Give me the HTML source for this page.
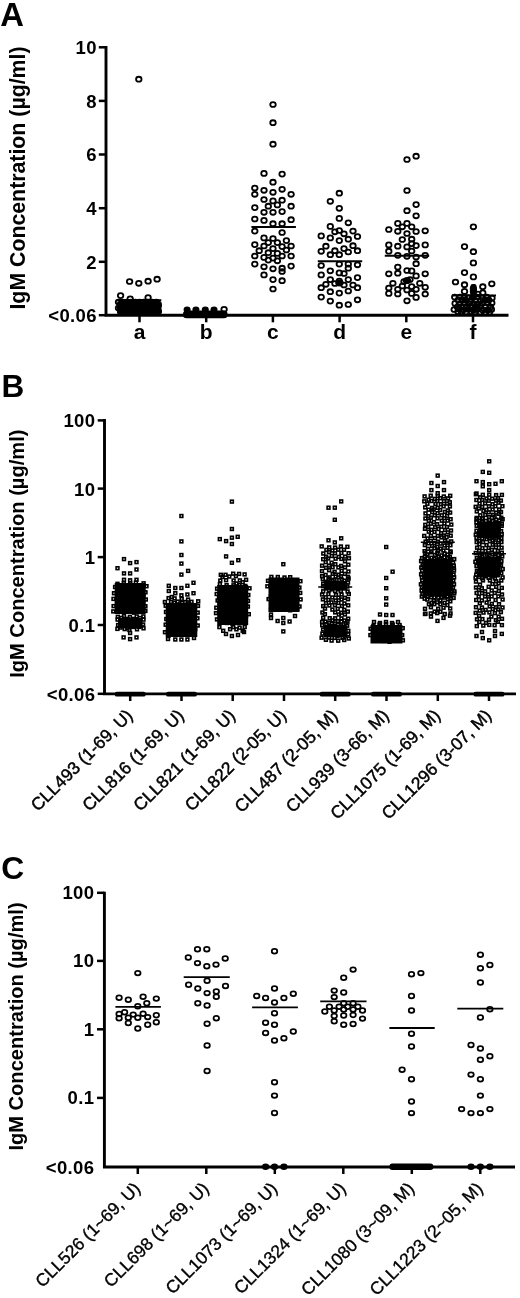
<!DOCTYPE html>
<html><head><meta charset="utf-8"><style>
html,body{margin:0;padding:0;background:#fff;}
svg{display:block;will-change:transform;}
</style></head><body>
<svg width="520" height="1298" viewBox="0 0 520 1298">
<rect width="520" height="1298" fill="#fff"/>
<text x="0.3" y="25.8" font-size="32.8" font-weight="bold" font-family="Liberation Sans, sans-serif">A</text>
<text transform="translate(24.6,178) rotate(-90)" text-anchor="middle" font-size="21.3" font-weight="bold" font-family="Liberation Sans, sans-serif">IgM Concentration (µg/ml)</text>
<path d="M106,46.1 V315.2 H508.5" fill="none" stroke="#000" stroke-width="2.9"/>
<line x1="98.8" y1="47.3" x2="106" y2="47.3" stroke="#000" stroke-width="2.5"/>
<text x="97" y="54.2" text-anchor="end" font-size="18.5" letter-spacing="0.4" font-weight="bold" font-family="Liberation Sans, sans-serif">10</text>
<line x1="98.8" y1="100.9" x2="106" y2="100.9" stroke="#000" stroke-width="2.5"/>
<text x="97" y="107.8" text-anchor="end" font-size="18.5" letter-spacing="0.4" font-weight="bold" font-family="Liberation Sans, sans-serif">8</text>
<line x1="98.8" y1="154.5" x2="106" y2="154.5" stroke="#000" stroke-width="2.5"/>
<text x="97" y="161.4" text-anchor="end" font-size="18.5" letter-spacing="0.4" font-weight="bold" font-family="Liberation Sans, sans-serif">6</text>
<line x1="98.8" y1="208.2" x2="106" y2="208.2" stroke="#000" stroke-width="2.5"/>
<text x="97" y="215.1" text-anchor="end" font-size="18.5" letter-spacing="0.4" font-weight="bold" font-family="Liberation Sans, sans-serif">4</text>
<line x1="98.8" y1="261.8" x2="106" y2="261.8" stroke="#000" stroke-width="2.5"/>
<text x="97" y="268.7" text-anchor="end" font-size="18.5" letter-spacing="0.4" font-weight="bold" font-family="Liberation Sans, sans-serif">2</text>
<line x1="98.8" y1="315.2" x2="106" y2="315.2" stroke="#000" stroke-width="2.5"/>
<text x="97" y="322.2" text-anchor="end" font-size="18.5" letter-spacing="0.4" font-weight="bold" font-family="Liberation Sans, sans-serif">&lt;0.06</text>
<line x1="139.5" y1="315.2" x2="139.5" y2="322.3" stroke="#000" stroke-width="2.5"/>
<text x="139.5" y="339" text-anchor="middle" font-size="21" font-weight="bold" font-family="Liberation Sans, sans-serif">a</text>
<line x1="206.2" y1="315.2" x2="206.2" y2="322.3" stroke="#000" stroke-width="2.5"/>
<text x="206.2" y="339" text-anchor="middle" font-size="21" font-weight="bold" font-family="Liberation Sans, sans-serif">b</text>
<line x1="272.9" y1="315.2" x2="272.9" y2="322.3" stroke="#000" stroke-width="2.5"/>
<text x="272.9" y="339" text-anchor="middle" font-size="21" font-weight="bold" font-family="Liberation Sans, sans-serif">c</text>
<line x1="339.6" y1="315.2" x2="339.6" y2="322.3" stroke="#000" stroke-width="2.5"/>
<text x="339.6" y="339" text-anchor="middle" font-size="21" font-weight="bold" font-family="Liberation Sans, sans-serif">d</text>
<line x1="406.3" y1="315.2" x2="406.3" y2="322.3" stroke="#000" stroke-width="2.5"/>
<text x="406.3" y="339" text-anchor="middle" font-size="21" font-weight="bold" font-family="Liberation Sans, sans-serif">e</text>
<line x1="473" y1="315.2" x2="473" y2="322.3" stroke="#000" stroke-width="2.5"/>
<text x="473" y="339" text-anchor="middle" font-size="21" font-weight="bold" font-family="Liberation Sans, sans-serif">f</text>
<rect x="117" y="301" width="44.5" height="13" rx="2"/>
<rect x="183" y="310.5" width="44.5" height="7.8" rx="3.5"/>
<rect x="470.5" y="284" width="6" height="16" rx="2"/>
<ellipse cx="187.1" cy="309.6" rx="3.5" ry="3.2"/>
<ellipse cx="195.9" cy="309.6" rx="3.5" ry="3.2"/>
<ellipse cx="205.3" cy="309.6" rx="3.5" ry="3.2"/>
<ellipse cx="214" cy="309.6" rx="3.5" ry="3.2"/>
<g fill="none" stroke="#000" stroke-width="1.8">
<ellipse cx="138.8" cy="79.2" rx="2.75" ry="2.45"/>
<ellipse cx="129.6" cy="281.5" rx="2.75" ry="2.45"/>
<ellipse cx="138.8" cy="283.3" rx="2.75" ry="2.45"/>
<ellipse cx="148.1" cy="281.2" rx="2.75" ry="2.45"/>
<ellipse cx="157.1" cy="279.2" rx="2.75" ry="2.45"/>
<ellipse cx="120.6" cy="295.6" rx="2.75" ry="2.45"/>
<ellipse cx="130.2" cy="298.8" rx="2.75" ry="2.45"/>
<ellipse cx="148.1" cy="297.5" rx="2.75" ry="2.45"/>
<ellipse cx="273.0" cy="104.5" rx="2.75" ry="2.45"/>
<ellipse cx="273.0" cy="122.7" rx="2.75" ry="2.45"/>
<ellipse cx="273.0" cy="144.2" rx="2.75" ry="2.45"/>
<ellipse cx="264.0" cy="173.4" rx="2.75" ry="2.45"/>
<ellipse cx="282.1" cy="174.1" rx="2.75" ry="2.45"/>
<ellipse cx="273.0" cy="182.2" rx="2.75" ry="2.45"/>
<ellipse cx="254.8" cy="188.0" rx="2.75" ry="2.45"/>
<ellipse cx="254.8" cy="194.3" rx="2.75" ry="2.45"/>
<ellipse cx="264.0" cy="190.3" rx="2.75" ry="2.45"/>
<ellipse cx="273.0" cy="192.3" rx="2.75" ry="2.45"/>
<ellipse cx="282.1" cy="189.3" rx="2.75" ry="2.45"/>
<ellipse cx="291.1" cy="194.3" rx="2.75" ry="2.45"/>
<ellipse cx="264.0" cy="199.5" rx="2.75" ry="2.45"/>
<ellipse cx="273.0" cy="200.9" rx="2.75" ry="2.45"/>
<ellipse cx="282.1" cy="200.2" rx="2.75" ry="2.45"/>
<ellipse cx="277.4" cy="204.9" rx="2.75" ry="2.45"/>
<ellipse cx="268.3" cy="206.2" rx="2.75" ry="2.45"/>
<ellipse cx="254.8" cy="207.6" rx="2.75" ry="2.45"/>
<ellipse cx="291.1" cy="206.2" rx="2.75" ry="2.45"/>
<ellipse cx="264.0" cy="212.3" rx="2.75" ry="2.45"/>
<ellipse cx="273.0" cy="212.3" rx="2.75" ry="2.45"/>
<ellipse cx="282.1" cy="211.6" rx="2.75" ry="2.45"/>
<ellipse cx="254.8" cy="219.0" rx="2.75" ry="2.45"/>
<ellipse cx="264.0" cy="220.4" rx="2.75" ry="2.45"/>
<ellipse cx="291.1" cy="219.7" rx="2.75" ry="2.45"/>
<ellipse cx="273.0" cy="223.7" rx="2.75" ry="2.45"/>
<ellipse cx="282.1" cy="223.7" rx="2.75" ry="2.45"/>
<ellipse cx="254.8" cy="231.1" rx="2.75" ry="2.45"/>
<ellipse cx="282.1" cy="232.5" rx="2.75" ry="2.45"/>
<ellipse cx="264.0" cy="237.9" rx="2.75" ry="2.45"/>
<ellipse cx="273.0" cy="238.5" rx="2.75" ry="2.45"/>
<ellipse cx="286.4" cy="240.6" rx="2.75" ry="2.45"/>
<ellipse cx="254.8" cy="244.6" rx="2.75" ry="2.45"/>
<ellipse cx="264.0" cy="246.0" rx="2.75" ry="2.45"/>
<ellipse cx="268.3" cy="242.6" rx="2.75" ry="2.45"/>
<ellipse cx="277.4" cy="242.6" rx="2.75" ry="2.45"/>
<ellipse cx="282.1" cy="246.6" rx="2.75" ry="2.45"/>
<ellipse cx="291.1" cy="246.0" rx="2.75" ry="2.45"/>
<ellipse cx="273.0" cy="248.6" rx="2.75" ry="2.45"/>
<ellipse cx="259.2" cy="250.7" rx="2.75" ry="2.45"/>
<ellipse cx="286.4" cy="250.0" rx="2.75" ry="2.45"/>
<ellipse cx="268.3" cy="252.7" rx="2.75" ry="2.45"/>
<ellipse cx="277.4" cy="253.4" rx="2.75" ry="2.45"/>
<ellipse cx="254.8" cy="256.0" rx="2.75" ry="2.45"/>
<ellipse cx="264.0" cy="257.4" rx="2.75" ry="2.45"/>
<ellipse cx="282.1" cy="256.0" rx="2.75" ry="2.45"/>
<ellipse cx="291.1" cy="256.0" rx="2.75" ry="2.45"/>
<ellipse cx="273.0" cy="258.1" rx="2.75" ry="2.45"/>
<ellipse cx="268.3" cy="260.1" rx="2.75" ry="2.45"/>
<ellipse cx="277.4" cy="260.8" rx="2.75" ry="2.45"/>
<ellipse cx="254.8" cy="264.1" rx="2.75" ry="2.45"/>
<ellipse cx="291.1" cy="266.1" rx="2.75" ry="2.45"/>
<ellipse cx="264.0" cy="266.8" rx="2.75" ry="2.45"/>
<ellipse cx="273.0" cy="268.8" rx="2.75" ry="2.45"/>
<ellipse cx="282.1" cy="268.2" rx="2.75" ry="2.45"/>
<ellipse cx="282.1" cy="271.5" rx="2.75" ry="2.45"/>
<ellipse cx="264.0" cy="274.9" rx="2.75" ry="2.45"/>
<ellipse cx="273.0" cy="279.6" rx="2.75" ry="2.45"/>
<ellipse cx="282.1" cy="280.7" rx="2.75" ry="2.45"/>
<ellipse cx="273.0" cy="289.0" rx="2.75" ry="2.45"/>
<ellipse cx="339.3" cy="193.2" rx="2.75" ry="2.45"/>
<ellipse cx="330.3" cy="201.3" rx="2.75" ry="2.45"/>
<ellipse cx="339.3" cy="208.3" rx="2.75" ry="2.45"/>
<ellipse cx="339.3" cy="218.4" rx="2.75" ry="2.45"/>
<ellipse cx="348.3" cy="222.8" rx="2.75" ry="2.45"/>
<ellipse cx="330.3" cy="226.4" rx="2.75" ry="2.45"/>
<ellipse cx="339.3" cy="230.5" rx="2.75" ry="2.45"/>
<ellipse cx="334.9" cy="231.8" rx="2.75" ry="2.45"/>
<ellipse cx="353.0" cy="231.1" rx="2.75" ry="2.45"/>
<ellipse cx="344.0" cy="233.8" rx="2.75" ry="2.45"/>
<ellipse cx="321.2" cy="235.9" rx="2.75" ry="2.45"/>
<ellipse cx="330.3" cy="237.9" rx="2.75" ry="2.45"/>
<ellipse cx="357.5" cy="236.5" rx="2.75" ry="2.45"/>
<ellipse cx="339.3" cy="240.6" rx="2.75" ry="2.45"/>
<ellipse cx="348.3" cy="239.2" rx="2.75" ry="2.45"/>
<ellipse cx="325.9" cy="246.2" rx="2.75" ry="2.45"/>
<ellipse cx="353.0" cy="245.7" rx="2.75" ry="2.45"/>
<ellipse cx="344.0" cy="248.6" rx="2.75" ry="2.45"/>
<ellipse cx="321.2" cy="251.3" rx="2.75" ry="2.45"/>
<ellipse cx="334.9" cy="250.7" rx="2.75" ry="2.45"/>
<ellipse cx="357.5" cy="250.7" rx="2.75" ry="2.45"/>
<ellipse cx="348.3" cy="252.0" rx="2.75" ry="2.45"/>
<ellipse cx="330.3" cy="254.7" rx="2.75" ry="2.45"/>
<ellipse cx="339.3" cy="254.7" rx="2.75" ry="2.45"/>
<ellipse cx="321.2" cy="265.5" rx="2.75" ry="2.45"/>
<ellipse cx="339.3" cy="264.1" rx="2.75" ry="2.45"/>
<ellipse cx="348.3" cy="264.1" rx="2.75" ry="2.45"/>
<ellipse cx="357.5" cy="264.8" rx="2.75" ry="2.45"/>
<ellipse cx="348.3" cy="268.2" rx="2.75" ry="2.45"/>
<ellipse cx="330.3" cy="270.8" rx="2.75" ry="2.45"/>
<ellipse cx="339.3" cy="272.9" rx="2.75" ry="2.45"/>
<ellipse cx="344.0" cy="273.5" rx="2.75" ry="2.45"/>
<ellipse cx="321.2" cy="274.9" rx="2.75" ry="2.45"/>
<ellipse cx="357.5" cy="277.6" rx="2.75" ry="2.45"/>
<ellipse cx="330.3" cy="279.6" rx="2.75" ry="2.45"/>
<ellipse cx="348.3" cy="279.6" rx="2.75" ry="2.45"/>
<ellipse cx="339.3" cy="283.0" rx="2.75" ry="2.45"/>
<ellipse cx="334.9" cy="283.5" rx="2.75" ry="2.45"/>
<ellipse cx="325.9" cy="284.3" rx="2.75" ry="2.45"/>
<ellipse cx="344.0" cy="285.0" rx="2.75" ry="2.45"/>
<ellipse cx="353.0" cy="285.0" rx="2.75" ry="2.45"/>
<ellipse cx="321.2" cy="287.7" rx="2.75" ry="2.45"/>
<ellipse cx="357.5" cy="287.7" rx="2.75" ry="2.45"/>
<ellipse cx="330.3" cy="291.7" rx="2.75" ry="2.45"/>
<ellipse cx="339.3" cy="293.1" rx="2.75" ry="2.45"/>
<ellipse cx="348.3" cy="291.0" rx="2.75" ry="2.45"/>
<ellipse cx="321.2" cy="297.1" rx="2.75" ry="2.45"/>
<ellipse cx="357.5" cy="299.8" rx="2.75" ry="2.45"/>
<ellipse cx="330.3" cy="301.1" rx="2.75" ry="2.45"/>
<ellipse cx="339.3" cy="305.2" rx="2.75" ry="2.45"/>
<ellipse cx="348.3" cy="304.5" rx="2.75" ry="2.45"/>
<ellipse cx="339.3" cy="281.0" rx="2.75" ry="2.45"/>
<ellipse cx="407.0" cy="159.5" rx="2.75" ry="2.45"/>
<ellipse cx="416.1" cy="156.2" rx="2.75" ry="2.45"/>
<ellipse cx="407.0" cy="190.5" rx="2.75" ry="2.45"/>
<ellipse cx="416.1" cy="204.6" rx="2.75" ry="2.45"/>
<ellipse cx="407.0" cy="210.7" rx="2.75" ry="2.45"/>
<ellipse cx="416.1" cy="215.8" rx="2.75" ry="2.45"/>
<ellipse cx="397.8" cy="223.4" rx="2.75" ry="2.45"/>
<ellipse cx="407.0" cy="223.4" rx="2.75" ry="2.45"/>
<ellipse cx="402.3" cy="226.8" rx="2.75" ry="2.45"/>
<ellipse cx="411.7" cy="226.8" rx="2.75" ry="2.45"/>
<ellipse cx="388.8" cy="229.5" rx="2.75" ry="2.45"/>
<ellipse cx="397.8" cy="231.3" rx="2.75" ry="2.45"/>
<ellipse cx="416.1" cy="231.5" rx="2.75" ry="2.45"/>
<ellipse cx="425.2" cy="230.8" rx="2.75" ry="2.45"/>
<ellipse cx="407.0" cy="233.5" rx="2.75" ry="2.45"/>
<ellipse cx="402.3" cy="239.5" rx="2.75" ry="2.45"/>
<ellipse cx="411.7" cy="239.2" rx="2.75" ry="2.45"/>
<ellipse cx="388.8" cy="244.9" rx="2.75" ry="2.45"/>
<ellipse cx="397.8" cy="246.2" rx="2.75" ry="2.45"/>
<ellipse cx="407.0" cy="246.9" rx="2.75" ry="2.45"/>
<ellipse cx="416.1" cy="245.6" rx="2.75" ry="2.45"/>
<ellipse cx="425.2" cy="244.9" rx="2.75" ry="2.45"/>
<ellipse cx="411.7" cy="243.6" rx="2.75" ry="2.45"/>
<ellipse cx="388.8" cy="251.2" rx="2.75" ry="2.45"/>
<ellipse cx="411.7" cy="251.0" rx="2.75" ry="2.45"/>
<ellipse cx="397.8" cy="255.3" rx="2.75" ry="2.45"/>
<ellipse cx="407.0" cy="256.3" rx="2.75" ry="2.45"/>
<ellipse cx="416.1" cy="257.0" rx="2.75" ry="2.45"/>
<ellipse cx="425.2" cy="255.3" rx="2.75" ry="2.45"/>
<ellipse cx="416.1" cy="263.7" rx="2.75" ry="2.45"/>
<ellipse cx="397.8" cy="267.1" rx="2.75" ry="2.45"/>
<ellipse cx="388.8" cy="273.8" rx="2.75" ry="2.45"/>
<ellipse cx="397.8" cy="273.2" rx="2.75" ry="2.45"/>
<ellipse cx="407.0" cy="270.5" rx="2.75" ry="2.45"/>
<ellipse cx="411.7" cy="270.9" rx="2.75" ry="2.45"/>
<ellipse cx="416.1" cy="275.9" rx="2.75" ry="2.45"/>
<ellipse cx="425.2" cy="273.8" rx="2.75" ry="2.45"/>
<ellipse cx="407.0" cy="280.6" rx="2.75" ry="2.45"/>
<ellipse cx="404.0" cy="281.5" rx="2.75" ry="2.45"/>
<ellipse cx="410.0" cy="279.5" rx="2.75" ry="2.45"/>
<ellipse cx="392.9" cy="283.3" rx="2.75" ry="2.45"/>
<ellipse cx="419.8" cy="283.3" rx="2.75" ry="2.45"/>
<ellipse cx="388.8" cy="288.0" rx="2.75" ry="2.45"/>
<ellipse cx="397.8" cy="289.3" rx="2.75" ry="2.45"/>
<ellipse cx="402.3" cy="286.0" rx="2.75" ry="2.45"/>
<ellipse cx="407.0" cy="290.0" rx="2.75" ry="2.45"/>
<ellipse cx="411.7" cy="286.6" rx="2.75" ry="2.45"/>
<ellipse cx="416.1" cy="289.3" rx="2.75" ry="2.45"/>
<ellipse cx="425.2" cy="287.3" rx="2.75" ry="2.45"/>
<ellipse cx="388.8" cy="293.4" rx="2.75" ry="2.45"/>
<ellipse cx="397.8" cy="294.0" rx="2.75" ry="2.45"/>
<ellipse cx="411.7" cy="293.4" rx="2.75" ry="2.45"/>
<ellipse cx="425.2" cy="294.0" rx="2.75" ry="2.45"/>
<ellipse cx="416.1" cy="297.4" rx="2.75" ry="2.45"/>
<ellipse cx="407.0" cy="300.8" rx="2.75" ry="2.45"/>
<ellipse cx="473.4" cy="226.8" rx="2.75" ry="2.45"/>
<ellipse cx="464.5" cy="246.6" rx="2.75" ry="2.45"/>
<ellipse cx="473.4" cy="251.7" rx="2.75" ry="2.45"/>
<ellipse cx="473.4" cy="262.9" rx="2.75" ry="2.45"/>
<ellipse cx="464.5" cy="272.6" rx="2.75" ry="2.45"/>
<ellipse cx="473.4" cy="276.9" rx="2.75" ry="2.45"/>
<ellipse cx="455.5" cy="282.0" rx="2.75" ry="2.45"/>
<ellipse cx="491.8" cy="283.8" rx="2.75" ry="2.45"/>
<ellipse cx="464.5" cy="284.7" rx="2.75" ry="2.45"/>
<ellipse cx="482.8" cy="286.7" rx="2.75" ry="2.45"/>
<ellipse cx="473.4" cy="288.7" rx="2.75" ry="2.45"/>
<ellipse cx="464.5" cy="291.4" rx="2.75" ry="2.45"/>
<ellipse cx="482.8" cy="292.8" rx="2.75" ry="2.45"/>
<ellipse cx="473.4" cy="291.5" rx="2.75" ry="2.45"/>
<ellipse cx="478.0" cy="294.0" rx="2.75" ry="2.45"/>
<ellipse cx="118.5" cy="302.0" rx="2.75" ry="2.45"/>
<ellipse cx="122.7" cy="302.0" rx="2.75" ry="2.45"/>
<ellipse cx="126.9" cy="302.0" rx="2.75" ry="2.45"/>
<ellipse cx="131.1" cy="302.0" rx="2.75" ry="2.45"/>
<ellipse cx="135.3" cy="302.0" rx="2.75" ry="2.45"/>
<ellipse cx="139.5" cy="302.0" rx="2.75" ry="2.45"/>
<ellipse cx="143.7" cy="302.0" rx="2.75" ry="2.45"/>
<ellipse cx="147.9" cy="302.0" rx="2.75" ry="2.45"/>
<ellipse cx="152.1" cy="302.0" rx="2.75" ry="2.45"/>
<ellipse cx="156.3" cy="302.0" rx="2.75" ry="2.45"/>
<ellipse cx="120.6" cy="305.0" rx="2.75" ry="2.45"/>
<ellipse cx="124.8" cy="305.0" rx="2.75" ry="2.45"/>
<ellipse cx="129.0" cy="305.0" rx="2.75" ry="2.45"/>
<ellipse cx="133.2" cy="305.0" rx="2.75" ry="2.45"/>
<ellipse cx="137.4" cy="305.0" rx="2.75" ry="2.45"/>
<ellipse cx="141.6" cy="305.0" rx="2.75" ry="2.45"/>
<ellipse cx="145.8" cy="305.0" rx="2.75" ry="2.45"/>
<ellipse cx="150.0" cy="305.0" rx="2.75" ry="2.45"/>
<ellipse cx="154.2" cy="305.0" rx="2.75" ry="2.45"/>
<ellipse cx="158.4" cy="305.0" rx="2.75" ry="2.45"/>
<ellipse cx="118.5" cy="308.0" rx="2.75" ry="2.45"/>
<ellipse cx="122.7" cy="308.0" rx="2.75" ry="2.45"/>
<ellipse cx="126.9" cy="308.0" rx="2.75" ry="2.45"/>
<ellipse cx="131.1" cy="308.0" rx="2.75" ry="2.45"/>
<ellipse cx="135.3" cy="308.0" rx="2.75" ry="2.45"/>
<ellipse cx="139.5" cy="308.0" rx="2.75" ry="2.45"/>
<ellipse cx="143.7" cy="308.0" rx="2.75" ry="2.45"/>
<ellipse cx="147.9" cy="308.0" rx="2.75" ry="2.45"/>
<ellipse cx="152.1" cy="308.0" rx="2.75" ry="2.45"/>
<ellipse cx="156.3" cy="308.0" rx="2.75" ry="2.45"/>
<ellipse cx="120.6" cy="311.5" rx="2.75" ry="2.45"/>
<ellipse cx="124.8" cy="311.5" rx="2.75" ry="2.45"/>
<ellipse cx="129.0" cy="311.5" rx="2.75" ry="2.45"/>
<ellipse cx="133.2" cy="311.5" rx="2.75" ry="2.45"/>
<ellipse cx="137.4" cy="311.5" rx="2.75" ry="2.45"/>
<ellipse cx="141.6" cy="311.5" rx="2.75" ry="2.45"/>
<ellipse cx="145.8" cy="311.5" rx="2.75" ry="2.45"/>
<ellipse cx="150.0" cy="311.5" rx="2.75" ry="2.45"/>
<ellipse cx="154.2" cy="311.5" rx="2.75" ry="2.45"/>
<ellipse cx="158.4" cy="311.5" rx="2.75" ry="2.45"/>
<ellipse cx="224.1" cy="309.3" rx="2.75" ry="2.45"/>
<ellipse cx="454.7" cy="297.1" rx="2.75" ry="2.45"/>
<ellipse cx="459.8" cy="297.0" rx="2.75" ry="2.45"/>
<ellipse cx="464.3" cy="297.3" rx="2.75" ry="2.45"/>
<ellipse cx="468.1" cy="297.5" rx="2.75" ry="2.45"/>
<ellipse cx="472.7" cy="297.4" rx="2.75" ry="2.45"/>
<ellipse cx="477.3" cy="297.0" rx="2.75" ry="2.45"/>
<ellipse cx="482.5" cy="297.9" rx="2.75" ry="2.45"/>
<ellipse cx="486.6" cy="297.2" rx="2.75" ry="2.45"/>
<ellipse cx="492.0" cy="298.0" rx="2.75" ry="2.45"/>
<ellipse cx="458.1" cy="300.0" rx="2.75" ry="2.45"/>
<ellipse cx="462.5" cy="300.2" rx="2.75" ry="2.45"/>
<ellipse cx="465.9" cy="300.0" rx="2.75" ry="2.45"/>
<ellipse cx="470.8" cy="300.9" rx="2.75" ry="2.45"/>
<ellipse cx="475.2" cy="300.6" rx="2.75" ry="2.45"/>
<ellipse cx="480.5" cy="300.3" rx="2.75" ry="2.45"/>
<ellipse cx="485.0" cy="300.0" rx="2.75" ry="2.45"/>
<ellipse cx="488.8" cy="300.1" rx="2.75" ry="2.45"/>
<ellipse cx="455.1" cy="303.4" rx="2.75" ry="2.45"/>
<ellipse cx="459.3" cy="303.9" rx="2.75" ry="2.45"/>
<ellipse cx="464.5" cy="303.2" rx="2.75" ry="2.45"/>
<ellipse cx="468.9" cy="303.5" rx="2.75" ry="2.45"/>
<ellipse cx="474.0" cy="303.8" rx="2.75" ry="2.45"/>
<ellipse cx="477.7" cy="304.1" rx="2.75" ry="2.45"/>
<ellipse cx="482.0" cy="303.4" rx="2.75" ry="2.45"/>
<ellipse cx="487.6" cy="303.1" rx="2.75" ry="2.45"/>
<ellipse cx="491.8" cy="302.9" rx="2.75" ry="2.45"/>
<ellipse cx="457.4" cy="307.0" rx="2.75" ry="2.45"/>
<ellipse cx="461.6" cy="306.7" rx="2.75" ry="2.45"/>
<ellipse cx="466.7" cy="306.6" rx="2.75" ry="2.45"/>
<ellipse cx="471.0" cy="306.9" rx="2.75" ry="2.45"/>
<ellipse cx="476.4" cy="306.5" rx="2.75" ry="2.45"/>
<ellipse cx="480.6" cy="306.0" rx="2.75" ry="2.45"/>
<ellipse cx="485.2" cy="306.7" rx="2.75" ry="2.45"/>
<ellipse cx="490.3" cy="306.9" rx="2.75" ry="2.45"/>
<ellipse cx="454.2" cy="309.5" rx="2.75" ry="2.45"/>
<ellipse cx="459.1" cy="309.0" rx="2.75" ry="2.45"/>
<ellipse cx="463.5" cy="309.8" rx="2.75" ry="2.45"/>
<ellipse cx="468.2" cy="309.2" rx="2.75" ry="2.45"/>
<ellipse cx="473.2" cy="309.9" rx="2.75" ry="2.45"/>
<ellipse cx="477.3" cy="309.4" rx="2.75" ry="2.45"/>
<ellipse cx="482.7" cy="310.0" rx="2.75" ry="2.45"/>
<ellipse cx="487.7" cy="309.9" rx="2.75" ry="2.45"/>
<ellipse cx="491.4" cy="309.4" rx="2.75" ry="2.45"/>
<ellipse cx="458.0" cy="311.6" rx="2.75" ry="2.45"/>
<ellipse cx="461.4" cy="311.7" rx="2.75" ry="2.45"/>
<ellipse cx="466.1" cy="312.0" rx="2.75" ry="2.45"/>
<ellipse cx="471.2" cy="311.7" rx="2.75" ry="2.45"/>
<ellipse cx="474.9" cy="311.9" rx="2.75" ry="2.45"/>
<ellipse cx="480.1" cy="312.1" rx="2.75" ry="2.45"/>
<ellipse cx="485.6" cy="312.2" rx="2.75" ry="2.45"/>
<ellipse cx="489.5" cy="312.1" rx="2.75" ry="2.45"/>
</g>
<ellipse cx="339.5" cy="282.8" rx="4.2" ry="3.4"/>
<ellipse cx="407" cy="280.6" rx="4.2" ry="3.4"/>
<line x1="117.5" y1="300.2" x2="161.3" y2="300.2" stroke="#000" stroke-width="2"/>
<line x1="251.4" y1="227.1" x2="295.9" y2="227.1" stroke="#000" stroke-width="2"/>
<line x1="317.8" y1="261.2" x2="362.2" y2="261.2" stroke="#000" stroke-width="2"/>
<line x1="384.8" y1="255.7" x2="429.2" y2="255.7" stroke="#000" stroke-width="2"/>
<line x1="452" y1="295.5" x2="496" y2="295.5" stroke="#000" stroke-width="2"/>
<text x="1.5" y="396.9" font-size="31.5" font-weight="bold" font-family="Liberation Sans, sans-serif">B</text>
<text transform="translate(23.8,553.7) rotate(-90)" text-anchor="middle" font-size="20.1" font-weight="bold" font-family="Liberation Sans, sans-serif">IgM Concentration (µg/ml)</text>
<path d="M104.5,419.0 V693.9 H516" fill="none" stroke="#000" stroke-width="2.9"/>
<line x1="97.7" y1="420.4" x2="104.5" y2="420.4" stroke="#000" stroke-width="2.5"/>
<text x="95.5" y="427.3" text-anchor="end" font-size="18.5" letter-spacing="0.4" font-weight="bold" font-family="Liberation Sans, sans-serif">100</text>
<line x1="97.7" y1="488.6" x2="104.5" y2="488.6" stroke="#000" stroke-width="2.5"/>
<text x="95.5" y="495.5" text-anchor="end" font-size="18.5" letter-spacing="0.4" font-weight="bold" font-family="Liberation Sans, sans-serif">10</text>
<line x1="97.7" y1="557.1" x2="104.5" y2="557.1" stroke="#000" stroke-width="2.5"/>
<text x="95.5" y="564.0" text-anchor="end" font-size="18.5" letter-spacing="0.4" font-weight="bold" font-family="Liberation Sans, sans-serif">1</text>
<line x1="97.7" y1="625.0" x2="104.5" y2="625.0" stroke="#000" stroke-width="2.5"/>
<text x="95.5" y="631.9" text-anchor="end" font-size="18.5" letter-spacing="0.4" font-weight="bold" font-family="Liberation Sans, sans-serif">0.1</text>
<line x1="97.7" y1="693.8" x2="104.5" y2="693.8" stroke="#000" stroke-width="2.5"/>
<text x="95.5" y="700.7" text-anchor="end" font-size="18.5" letter-spacing="0.4" font-weight="bold" font-family="Liberation Sans, sans-serif">&lt;0.06</text>
<line x1="130.2" y1="694.2" x2="130.2" y2="701" stroke="#000" stroke-width="2.5"/>
<text transform="translate(133.7,716.5) rotate(-45)" text-anchor="end" font-size="17.5" stroke="#000" stroke-width="0.45" font-family="Liberation Sans, sans-serif">CLL493 (1-69, U)</text>
<line x1="181.5" y1="694.2" x2="181.5" y2="701" stroke="#000" stroke-width="2.5"/>
<text transform="translate(185.0,716.5) rotate(-45)" text-anchor="end" font-size="17.5" stroke="#000" stroke-width="0.45" font-family="Liberation Sans, sans-serif">CLL816 (1-69, U)</text>
<line x1="232.7" y1="694.2" x2="232.7" y2="701" stroke="#000" stroke-width="2.5"/>
<text transform="translate(236.2,716.5) rotate(-45)" text-anchor="end" font-size="17.5" stroke="#000" stroke-width="0.45" font-family="Liberation Sans, sans-serif">CLL821 (1-69, U)</text>
<line x1="284.0" y1="694.2" x2="284.0" y2="701" stroke="#000" stroke-width="2.5"/>
<text transform="translate(287.5,716.5) rotate(-45)" text-anchor="end" font-size="17.5" stroke="#000" stroke-width="0.45" font-family="Liberation Sans, sans-serif">CLL822 (2-05, U)</text>
<line x1="335.2" y1="694.2" x2="335.2" y2="701" stroke="#000" stroke-width="2.5"/>
<text transform="translate(338.7,716.5) rotate(-45)" text-anchor="end" font-size="17.5" stroke="#000" stroke-width="0.45" font-family="Liberation Sans, sans-serif">CLL487 (2-05, M)</text>
<line x1="386.5" y1="694.2" x2="386.5" y2="701" stroke="#000" stroke-width="2.5"/>
<text transform="translate(390.0,716.5) rotate(-45)" text-anchor="end" font-size="17.5" stroke="#000" stroke-width="0.45" font-family="Liberation Sans, sans-serif">CLL939 (3-66, M)</text>
<line x1="437.8" y1="694.2" x2="437.8" y2="701" stroke="#000" stroke-width="2.5"/>
<text transform="translate(441.3,716.5) rotate(-45)" text-anchor="end" font-size="17.5" stroke="#000" stroke-width="0.45" font-family="Liberation Sans, sans-serif">CLL1075 (1-69, M)</text>
<line x1="489.0" y1="694.2" x2="489.0" y2="701" stroke="#000" stroke-width="2.5"/>
<text transform="translate(492.5,716.5) rotate(-45)" text-anchor="end" font-size="17.5" stroke="#000" stroke-width="0.45" font-family="Liberation Sans, sans-serif">CLL1296 (3-07, M)</text>
<rect x="114.7" y="691.8" width="31" height="4.8" rx="2.2"/>
<rect x="166.0" y="691.8" width="31" height="4.8" rx="2.2"/>
<rect x="319.7" y="691.8" width="31" height="4.8" rx="2.2"/>
<rect x="371.0" y="691.8" width="31" height="4.8" rx="2.2"/>
<rect x="473.5" y="691.8" width="31" height="4.8" rx="2.2"/>
<rect x="114.7" y="583.0" width="31.0" height="31.0"/>
<rect x="118.2" y="618.0" width="24.0" height="10.0"/>
<rect x="165.7" y="603.0" width="31.6" height="34.0"/>
<rect x="217.2" y="585.0" width="31.0" height="40.0"/>
<rect x="268.5" y="577.5" width="31.0" height="34.5"/>
<rect x="324.2" y="581.0" width="22.0" height="9.0"/>
<rect x="324.2" y="625.0" width="22.0" height="12.0"/>
<rect x="370.5" y="625.0" width="32.0" height="18.5"/>
<rect x="423.8" y="559.0" width="28.0" height="37.0"/>
<rect x="478.0" y="522.0" width="22.0" height="16.0"/>
<rect x="478.0" y="557.0" width="22.0" height="20.0"/>
<g fill="none" stroke="#000" stroke-width="1.6">
<rect x="122.6" y="557.7" width="2.8" height="2.8"/>
<rect x="128.7" y="561.7" width="2.8" height="2.8"/>
<rect x="135.1" y="560.7" width="2.8" height="2.8"/>
<rect x="116.1" y="566.8" width="2.8" height="2.8"/>
<rect x="135.1" y="568.1" width="2.8" height="2.8"/>
<rect x="122.6" y="572.0" width="2.8" height="2.8"/>
<rect x="128.7" y="572.0" width="2.8" height="2.8"/>
<rect x="122.6" y="578.4" width="2.8" height="2.8"/>
<rect x="128.7" y="578.9" width="2.8" height="2.8"/>
<rect x="135.1" y="578.4" width="2.8" height="2.8"/>
<rect x="116.1" y="582.4" width="2.8" height="2.8"/>
<rect x="122.4" y="581.8" width="2.8" height="2.8"/>
<rect x="128.8" y="581.8" width="2.8" height="2.8"/>
<rect x="134.5" y="581.2" width="2.8" height="2.8"/>
<rect x="142.2" y="581.9" width="2.8" height="2.8"/>
<rect x="113.7" y="585.6" width="2.8" height="2.8"/>
<rect x="119.4" y="584.2" width="2.8" height="2.8"/>
<rect x="125.7" y="584.0" width="2.8" height="2.8"/>
<rect x="131.5" y="584.0" width="2.8" height="2.8"/>
<rect x="138.3" y="585.4" width="2.8" height="2.8"/>
<rect x="145.1" y="584.8" width="2.8" height="2.8"/>
<rect x="115.9" y="587.6" width="2.8" height="2.8"/>
<rect x="135.6" y="587.7" width="2.8" height="2.8"/>
<rect x="141.2" y="587.2" width="2.8" height="2.8"/>
<rect x="112.6" y="591.8" width="2.8" height="2.8"/>
<rect x="120.0" y="591.8" width="2.8" height="2.8"/>
<rect x="125.1" y="591.9" width="2.8" height="2.8"/>
<rect x="132.9" y="591.0" width="2.8" height="2.8"/>
<rect x="138.6" y="591.7" width="2.8" height="2.8"/>
<rect x="144.1" y="590.9" width="2.8" height="2.8"/>
<rect x="121.7" y="593.9" width="2.8" height="2.8"/>
<rect x="128.0" y="594.9" width="2.8" height="2.8"/>
<rect x="135.3" y="594.3" width="2.8" height="2.8"/>
<rect x="142.0" y="593.7" width="2.8" height="2.8"/>
<rect x="112.1" y="597.5" width="2.8" height="2.8"/>
<rect x="118.8" y="598.4" width="2.8" height="2.8"/>
<rect x="125.2" y="598.3" width="2.8" height="2.8"/>
<rect x="131.8" y="598.2" width="2.8" height="2.8"/>
<rect x="137.7" y="598.5" width="2.8" height="2.8"/>
<rect x="144.4" y="598.1" width="2.8" height="2.8"/>
<rect x="115.6" y="600.0" width="2.8" height="2.8"/>
<rect x="122.5" y="600.3" width="2.8" height="2.8"/>
<rect x="128.6" y="600.7" width="2.8" height="2.8"/>
<rect x="141.7" y="601.5" width="2.8" height="2.8"/>
<rect x="112.2" y="604.7" width="2.8" height="2.8"/>
<rect x="118.7" y="603.4" width="2.8" height="2.8"/>
<rect x="126.4" y="603.5" width="2.8" height="2.8"/>
<rect x="138.6" y="603.9" width="2.8" height="2.8"/>
<rect x="144.0" y="604.8" width="2.8" height="2.8"/>
<rect x="116.4" y="606.8" width="2.8" height="2.8"/>
<rect x="122.6" y="606.8" width="2.8" height="2.8"/>
<rect x="129.2" y="606.4" width="2.8" height="2.8"/>
<rect x="135.3" y="607.8" width="2.8" height="2.8"/>
<rect x="141.2" y="608.0" width="2.8" height="2.8"/>
<rect x="111.9" y="610.0" width="2.8" height="2.8"/>
<rect x="118.4" y="609.8" width="2.8" height="2.8"/>
<rect x="125.7" y="609.7" width="2.8" height="2.8"/>
<rect x="132.7" y="611.3" width="2.8" height="2.8"/>
<rect x="138.7" y="610.6" width="2.8" height="2.8"/>
<rect x="144.0" y="609.5" width="2.8" height="2.8"/>
<rect x="116.4" y="615.4" width="2.8" height="2.8"/>
<rect x="122.6" y="614.6" width="2.8" height="2.8"/>
<rect x="128.5" y="615.5" width="2.8" height="2.8"/>
<rect x="135.3" y="615.0" width="2.8" height="2.8"/>
<rect x="142.0" y="615.0" width="2.8" height="2.8"/>
<rect x="119.9" y="616.5" width="2.8" height="2.8"/>
<rect x="126.3" y="617.5" width="2.8" height="2.8"/>
<rect x="132.5" y="617.5" width="2.8" height="2.8"/>
<rect x="138.6" y="616.6" width="2.8" height="2.8"/>
<rect x="116.2" y="618.2" width="2.8" height="2.8"/>
<rect x="123.3" y="619.7" width="2.8" height="2.8"/>
<rect x="128.6" y="619.4" width="2.8" height="2.8"/>
<rect x="135.1" y="619.6" width="2.8" height="2.8"/>
<rect x="142.1" y="618.2" width="2.8" height="2.8"/>
<rect x="119.2" y="620.7" width="2.8" height="2.8"/>
<rect x="125.6" y="621.4" width="2.8" height="2.8"/>
<rect x="131.6" y="620.3" width="2.8" height="2.8"/>
<rect x="138.7" y="620.7" width="2.8" height="2.8"/>
<rect x="116.7" y="623.7" width="2.8" height="2.8"/>
<rect x="123.1" y="623.1" width="2.8" height="2.8"/>
<rect x="128.3" y="623.3" width="2.8" height="2.8"/>
<rect x="135.9" y="624.1" width="2.8" height="2.8"/>
<rect x="141.7" y="623.1" width="2.8" height="2.8"/>
<rect x="119.2" y="626.2" width="2.8" height="2.8"/>
<rect x="126.0" y="626.4" width="2.8" height="2.8"/>
<rect x="131.4" y="625.5" width="2.8" height="2.8"/>
<rect x="137.9" y="625.4" width="2.8" height="2.8"/>
<rect x="116.0" y="627.5" width="2.8" height="2.8"/>
<rect x="123.3" y="627.7" width="2.8" height="2.8"/>
<rect x="128.0" y="628.5" width="2.8" height="2.8"/>
<rect x="135.6" y="627.9" width="2.8" height="2.8"/>
<rect x="142.1" y="626.9" width="2.8" height="2.8"/>
<rect x="128.7" y="631.6" width="2.8" height="2.8"/>
<rect x="122.2" y="636.0" width="2.8" height="2.8"/>
<rect x="128.7" y="637.7" width="2.8" height="2.8"/>
<rect x="135.1" y="636.0" width="2.8" height="2.8"/>
<rect x="180.0" y="514.6" width="2.8" height="2.8"/>
<rect x="180.0" y="540.0" width="2.8" height="2.8"/>
<rect x="180.0" y="553.6" width="2.8" height="2.8"/>
<rect x="180.0" y="562.2" width="2.8" height="2.8"/>
<rect x="186.7" y="569.5" width="2.8" height="2.8"/>
<rect x="180.0" y="573.2" width="2.8" height="2.8"/>
<rect x="167.4" y="584.4" width="2.8" height="2.8"/>
<rect x="167.4" y="589.6" width="2.8" height="2.8"/>
<rect x="173.9" y="586.6" width="2.8" height="2.8"/>
<rect x="180.0" y="586.6" width="2.8" height="2.8"/>
<rect x="186.0" y="584.4" width="2.8" height="2.8"/>
<rect x="192.1" y="581.4" width="2.8" height="2.8"/>
<rect x="192.1" y="591.8" width="2.8" height="2.8"/>
<rect x="173.9" y="591.8" width="2.8" height="2.8"/>
<rect x="180.0" y="593.9" width="2.8" height="2.8"/>
<rect x="186.0" y="593.1" width="2.8" height="2.8"/>
<rect x="170.4" y="595.6" width="2.8" height="2.8"/>
<rect x="167.2" y="596.7" width="2.8" height="2.8"/>
<rect x="173.2" y="597.0" width="2.8" height="2.8"/>
<rect x="180.3" y="597.5" width="2.8" height="2.8"/>
<rect x="186.7" y="598.2" width="2.8" height="2.8"/>
<rect x="163.5" y="600.6" width="2.8" height="2.8"/>
<rect x="169.6" y="600.5" width="2.8" height="2.8"/>
<rect x="176.3" y="600.2" width="2.8" height="2.8"/>
<rect x="183.6" y="600.6" width="2.8" height="2.8"/>
<rect x="190.1" y="600.4" width="2.8" height="2.8"/>
<rect x="196.8" y="599.9" width="2.8" height="2.8"/>
<rect x="173.0" y="601.5" width="2.8" height="2.8"/>
<rect x="180.8" y="601.4" width="2.8" height="2.8"/>
<rect x="187.1" y="602.1" width="2.8" height="2.8"/>
<rect x="164.3" y="604.3" width="2.8" height="2.8"/>
<rect x="171.0" y="605.1" width="2.8" height="2.8"/>
<rect x="176.3" y="605.5" width="2.8" height="2.8"/>
<rect x="196.6" y="604.5" width="2.8" height="2.8"/>
<rect x="173.4" y="607.2" width="2.8" height="2.8"/>
<rect x="180.2" y="608.5" width="2.8" height="2.8"/>
<rect x="185.6" y="608.6" width="2.8" height="2.8"/>
<rect x="193.4" y="607.4" width="2.8" height="2.8"/>
<rect x="164.6" y="610.6" width="2.8" height="2.8"/>
<rect x="170.5" y="611.6" width="2.8" height="2.8"/>
<rect x="177.2" y="612.0" width="2.8" height="2.8"/>
<rect x="184.1" y="610.5" width="2.8" height="2.8"/>
<rect x="189.7" y="610.8" width="2.8" height="2.8"/>
<rect x="196.3" y="611.2" width="2.8" height="2.8"/>
<rect x="167.4" y="614.1" width="2.8" height="2.8"/>
<rect x="174.3" y="615.1" width="2.8" height="2.8"/>
<rect x="180.7" y="615.2" width="2.8" height="2.8"/>
<rect x="186.6" y="613.9" width="2.8" height="2.8"/>
<rect x="192.9" y="614.6" width="2.8" height="2.8"/>
<rect x="164.9" y="617.6" width="2.8" height="2.8"/>
<rect x="171.0" y="617.7" width="2.8" height="2.8"/>
<rect x="177.2" y="616.8" width="2.8" height="2.8"/>
<rect x="183.1" y="618.4" width="2.8" height="2.8"/>
<rect x="196.0" y="616.9" width="2.8" height="2.8"/>
<rect x="167.8" y="621.5" width="2.8" height="2.8"/>
<rect x="173.3" y="620.2" width="2.8" height="2.8"/>
<rect x="180.8" y="620.1" width="2.8" height="2.8"/>
<rect x="185.6" y="620.2" width="2.8" height="2.8"/>
<rect x="193.2" y="620.5" width="2.8" height="2.8"/>
<rect x="164.3" y="623.3" width="2.8" height="2.8"/>
<rect x="169.8" y="624.0" width="2.8" height="2.8"/>
<rect x="176.3" y="624.1" width="2.8" height="2.8"/>
<rect x="183.0" y="623.8" width="2.8" height="2.8"/>
<rect x="189.0" y="623.5" width="2.8" height="2.8"/>
<rect x="196.3" y="624.1" width="2.8" height="2.8"/>
<rect x="167.5" y="627.8" width="2.8" height="2.8"/>
<rect x="174.1" y="627.8" width="2.8" height="2.8"/>
<rect x="186.1" y="628.0" width="2.8" height="2.8"/>
<rect x="193.8" y="627.9" width="2.8" height="2.8"/>
<rect x="163.6" y="630.8" width="2.8" height="2.8"/>
<rect x="169.7" y="631.0" width="2.8" height="2.8"/>
<rect x="177.4" y="629.7" width="2.8" height="2.8"/>
<rect x="183.6" y="629.5" width="2.8" height="2.8"/>
<rect x="190.0" y="631.1" width="2.8" height="2.8"/>
<rect x="167.3" y="634.1" width="2.8" height="2.8"/>
<rect x="174.0" y="633.0" width="2.8" height="2.8"/>
<rect x="179.4" y="632.8" width="2.8" height="2.8"/>
<rect x="186.5" y="633.7" width="2.8" height="2.8"/>
<rect x="192.3" y="633.1" width="2.8" height="2.8"/>
<rect x="166.6" y="637.6" width="2.8" height="2.8"/>
<rect x="173.9" y="638.1" width="2.8" height="2.8"/>
<rect x="180.0" y="638.1" width="2.8" height="2.8"/>
<rect x="186.0" y="638.1" width="2.8" height="2.8"/>
<rect x="192.6" y="636.6" width="2.8" height="2.8"/>
<rect x="230.5" y="500.2" width="2.8" height="2.8"/>
<rect x="230.5" y="527.6" width="2.8" height="2.8"/>
<rect x="218.4" y="537.7" width="2.8" height="2.8"/>
<rect x="224.7" y="539.7" width="2.8" height="2.8"/>
<rect x="230.5" y="536.3" width="2.8" height="2.8"/>
<rect x="236.3" y="535.4" width="2.8" height="2.8"/>
<rect x="230.5" y="542.6" width="2.8" height="2.8"/>
<rect x="224.7" y="555.0" width="2.8" height="2.8"/>
<rect x="230.5" y="561.4" width="2.8" height="2.8"/>
<rect x="236.9" y="558.8" width="2.8" height="2.8"/>
<rect x="219.4" y="573.4" width="2.8" height="2.8"/>
<rect x="224.1" y="573.4" width="2.8" height="2.8"/>
<rect x="231.8" y="572.3" width="2.8" height="2.8"/>
<rect x="237.7" y="572.5" width="2.8" height="2.8"/>
<rect x="243.2" y="573.0" width="2.8" height="2.8"/>
<rect x="221.1" y="575.5" width="2.8" height="2.8"/>
<rect x="227.9" y="575.1" width="2.8" height="2.8"/>
<rect x="234.5" y="574.7" width="2.8" height="2.8"/>
<rect x="218.9" y="579.2" width="2.8" height="2.8"/>
<rect x="224.7" y="578.8" width="2.8" height="2.8"/>
<rect x="232.2" y="579.1" width="2.8" height="2.8"/>
<rect x="238.5" y="579.0" width="2.8" height="2.8"/>
<rect x="244.7" y="578.4" width="2.8" height="2.8"/>
<rect x="235.0" y="582.1" width="2.8" height="2.8"/>
<rect x="241.3" y="580.8" width="2.8" height="2.8"/>
<rect x="218.5" y="582.7" width="2.8" height="2.8"/>
<rect x="225.2" y="583.8" width="2.8" height="2.8"/>
<rect x="232.1" y="583.9" width="2.8" height="2.8"/>
<rect x="238.0" y="583.7" width="2.8" height="2.8"/>
<rect x="243.9" y="584.5" width="2.8" height="2.8"/>
<rect x="215.7" y="587.3" width="2.8" height="2.8"/>
<rect x="228.3" y="587.2" width="2.8" height="2.8"/>
<rect x="234.3" y="586.0" width="2.8" height="2.8"/>
<rect x="240.7" y="586.1" width="2.8" height="2.8"/>
<rect x="248.1" y="586.9" width="2.8" height="2.8"/>
<rect x="219.4" y="590.1" width="2.8" height="2.8"/>
<rect x="231.9" y="589.2" width="2.8" height="2.8"/>
<rect x="238.2" y="589.2" width="2.8" height="2.8"/>
<rect x="215.3" y="592.6" width="2.8" height="2.8"/>
<rect x="221.9" y="592.4" width="2.8" height="2.8"/>
<rect x="234.6" y="593.4" width="2.8" height="2.8"/>
<rect x="240.5" y="593.5" width="2.8" height="2.8"/>
<rect x="246.9" y="593.6" width="2.8" height="2.8"/>
<rect x="217.6" y="595.9" width="2.8" height="2.8"/>
<rect x="224.3" y="596.9" width="2.8" height="2.8"/>
<rect x="232.0" y="596.8" width="2.8" height="2.8"/>
<rect x="238.6" y="597.2" width="2.8" height="2.8"/>
<rect x="244.8" y="596.3" width="2.8" height="2.8"/>
<rect x="216.2" y="599.1" width="2.8" height="2.8"/>
<rect x="222.5" y="600.0" width="2.8" height="2.8"/>
<rect x="229.0" y="600.2" width="2.8" height="2.8"/>
<rect x="233.8" y="599.8" width="2.8" height="2.8"/>
<rect x="240.4" y="598.8" width="2.8" height="2.8"/>
<rect x="246.6" y="599.5" width="2.8" height="2.8"/>
<rect x="218.4" y="602.4" width="2.8" height="2.8"/>
<rect x="224.8" y="603.3" width="2.8" height="2.8"/>
<rect x="232.2" y="603.6" width="2.8" height="2.8"/>
<rect x="237.2" y="602.1" width="2.8" height="2.8"/>
<rect x="244.6" y="603.0" width="2.8" height="2.8"/>
<rect x="214.9" y="606.3" width="2.8" height="2.8"/>
<rect x="221.9" y="606.2" width="2.8" height="2.8"/>
<rect x="227.6" y="605.5" width="2.8" height="2.8"/>
<rect x="246.5" y="605.2" width="2.8" height="2.8"/>
<rect x="218.4" y="609.4" width="2.8" height="2.8"/>
<rect x="225.0" y="608.4" width="2.8" height="2.8"/>
<rect x="231.6" y="609.3" width="2.8" height="2.8"/>
<rect x="237.5" y="609.2" width="2.8" height="2.8"/>
<rect x="243.8" y="609.6" width="2.8" height="2.8"/>
<rect x="214.6" y="611.7" width="2.8" height="2.8"/>
<rect x="221.9" y="612.9" width="2.8" height="2.8"/>
<rect x="228.0" y="612.0" width="2.8" height="2.8"/>
<rect x="234.3" y="612.7" width="2.8" height="2.8"/>
<rect x="247.4" y="612.8" width="2.8" height="2.8"/>
<rect x="224.7" y="614.9" width="2.8" height="2.8"/>
<rect x="230.6" y="614.8" width="2.8" height="2.8"/>
<rect x="237.7" y="615.9" width="2.8" height="2.8"/>
<rect x="244.6" y="614.8" width="2.8" height="2.8"/>
<rect x="215.6" y="618.0" width="2.8" height="2.8"/>
<rect x="222.1" y="619.1" width="2.8" height="2.8"/>
<rect x="227.5" y="618.5" width="2.8" height="2.8"/>
<rect x="234.3" y="618.1" width="2.8" height="2.8"/>
<rect x="241.0" y="619.6" width="2.8" height="2.8"/>
<rect x="225.5" y="621.6" width="2.8" height="2.8"/>
<rect x="231.1" y="622.8" width="2.8" height="2.8"/>
<rect x="237.3" y="621.8" width="2.8" height="2.8"/>
<rect x="243.9" y="621.8" width="2.8" height="2.8"/>
<rect x="218.0" y="625.7" width="2.8" height="2.8"/>
<rect x="231.9" y="625.7" width="2.8" height="2.8"/>
<rect x="238.2" y="626.3" width="2.8" height="2.8"/>
<rect x="243.3" y="625.6" width="2.8" height="2.8"/>
<rect x="221.8" y="629.4" width="2.8" height="2.8"/>
<rect x="228.7" y="627.8" width="2.8" height="2.8"/>
<rect x="235.0" y="627.9" width="2.8" height="2.8"/>
<rect x="241.3" y="629.3" width="2.8" height="2.8"/>
<rect x="224.6" y="632.6" width="2.8" height="2.8"/>
<rect x="230.5" y="634.6" width="2.8" height="2.8"/>
<rect x="236.6" y="633.6" width="2.8" height="2.8"/>
<rect x="242.6" y="630.6" width="2.8" height="2.8"/>
<rect x="281.9" y="562.8" width="2.8" height="2.8"/>
<rect x="270.0" y="575.5" width="2.8" height="2.8"/>
<rect x="276.4" y="575.6" width="2.8" height="2.8"/>
<rect x="283.1" y="576.1" width="2.8" height="2.8"/>
<rect x="288.8" y="575.8" width="2.8" height="2.8"/>
<rect x="266.6" y="579.4" width="2.8" height="2.8"/>
<rect x="273.4" y="580.0" width="2.8" height="2.8"/>
<rect x="280.0" y="579.6" width="2.8" height="2.8"/>
<rect x="286.3" y="579.9" width="2.8" height="2.8"/>
<rect x="293.0" y="579.6" width="2.8" height="2.8"/>
<rect x="299.0" y="579.8" width="2.8" height="2.8"/>
<rect x="269.6" y="581.9" width="2.8" height="2.8"/>
<rect x="277.1" y="582.3" width="2.8" height="2.8"/>
<rect x="282.0" y="582.4" width="2.8" height="2.8"/>
<rect x="289.8" y="581.7" width="2.8" height="2.8"/>
<rect x="294.7" y="582.8" width="2.8" height="2.8"/>
<rect x="266.0" y="584.9" width="2.8" height="2.8"/>
<rect x="273.1" y="586.4" width="2.8" height="2.8"/>
<rect x="278.7" y="585.1" width="2.8" height="2.8"/>
<rect x="285.3" y="586.1" width="2.8" height="2.8"/>
<rect x="291.7" y="585.1" width="2.8" height="2.8"/>
<rect x="298.0" y="586.2" width="2.8" height="2.8"/>
<rect x="269.9" y="589.5" width="2.8" height="2.8"/>
<rect x="275.7" y="589.6" width="2.8" height="2.8"/>
<rect x="289.1" y="589.7" width="2.8" height="2.8"/>
<rect x="294.9" y="588.1" width="2.8" height="2.8"/>
<rect x="272.8" y="592.1" width="2.8" height="2.8"/>
<rect x="279.0" y="593.0" width="2.8" height="2.8"/>
<rect x="285.3" y="591.2" width="2.8" height="2.8"/>
<rect x="291.9" y="592.6" width="2.8" height="2.8"/>
<rect x="298.8" y="591.5" width="2.8" height="2.8"/>
<rect x="269.5" y="594.9" width="2.8" height="2.8"/>
<rect x="276.2" y="595.5" width="2.8" height="2.8"/>
<rect x="289.0" y="594.7" width="2.8" height="2.8"/>
<rect x="294.5" y="595.9" width="2.8" height="2.8"/>
<rect x="267.2" y="597.7" width="2.8" height="2.8"/>
<rect x="273.4" y="597.8" width="2.8" height="2.8"/>
<rect x="279.3" y="599.3" width="2.8" height="2.8"/>
<rect x="286.4" y="598.1" width="2.8" height="2.8"/>
<rect x="292.0" y="599.3" width="2.8" height="2.8"/>
<rect x="299.2" y="598.0" width="2.8" height="2.8"/>
<rect x="269.8" y="601.1" width="2.8" height="2.8"/>
<rect x="275.8" y="601.4" width="2.8" height="2.8"/>
<rect x="282.2" y="601.6" width="2.8" height="2.8"/>
<rect x="288.7" y="602.0" width="2.8" height="2.8"/>
<rect x="295.2" y="601.6" width="2.8" height="2.8"/>
<rect x="273.3" y="604.0" width="2.8" height="2.8"/>
<rect x="279.8" y="604.4" width="2.8" height="2.8"/>
<rect x="285.7" y="604.0" width="2.8" height="2.8"/>
<rect x="298.1" y="605.1" width="2.8" height="2.8"/>
<rect x="269.6" y="608.2" width="2.8" height="2.8"/>
<rect x="275.9" y="607.9" width="2.8" height="2.8"/>
<rect x="282.1" y="607.6" width="2.8" height="2.8"/>
<rect x="288.7" y="608.9" width="2.8" height="2.8"/>
<rect x="295.8" y="607.8" width="2.8" height="2.8"/>
<rect x="269.6" y="616.6" width="2.8" height="2.8"/>
<rect x="276.2" y="619.6" width="2.8" height="2.8"/>
<rect x="281.9" y="616.6" width="2.8" height="2.8"/>
<rect x="281.9" y="621.6" width="2.8" height="2.8"/>
<rect x="288.2" y="620.1" width="2.8" height="2.8"/>
<rect x="281.9" y="630.0" width="2.8" height="2.8"/>
<rect x="293.6" y="614.6" width="2.8" height="2.8"/>
<rect x="269.6" y="613.1" width="2.8" height="2.8"/>
<rect x="339.8" y="500.0" width="2.8" height="2.8"/>
<rect x="327.1" y="506.3" width="2.8" height="2.8"/>
<rect x="333.4" y="506.3" width="2.8" height="2.8"/>
<rect x="333.4" y="518.4" width="2.8" height="2.8"/>
<rect x="339.8" y="536.9" width="2.8" height="2.8"/>
<rect x="327.1" y="538.9" width="2.8" height="2.8"/>
<rect x="333.4" y="541.0" width="2.8" height="2.8"/>
<rect x="320.3" y="545.0" width="2.8" height="2.8"/>
<rect x="327.8" y="546.0" width="2.8" height="2.8"/>
<rect x="333.7" y="546.2" width="2.8" height="2.8"/>
<rect x="339.5" y="545.1" width="2.8" height="2.8"/>
<rect x="346.0" y="545.4" width="2.8" height="2.8"/>
<rect x="325.0" y="548.5" width="2.8" height="2.8"/>
<rect x="330.9" y="549.1" width="2.8" height="2.8"/>
<rect x="336.8" y="548.3" width="2.8" height="2.8"/>
<rect x="342.6" y="548.4" width="2.8" height="2.8"/>
<rect x="321.9" y="552.1" width="2.8" height="2.8"/>
<rect x="327.6" y="550.7" width="2.8" height="2.8"/>
<rect x="333.6" y="551.9" width="2.8" height="2.8"/>
<rect x="340.0" y="551.6" width="2.8" height="2.8"/>
<rect x="347.2" y="551.8" width="2.8" height="2.8"/>
<rect x="324.7" y="555.3" width="2.8" height="2.8"/>
<rect x="330.4" y="554.6" width="2.8" height="2.8"/>
<rect x="337.4" y="555.5" width="2.8" height="2.8"/>
<rect x="343.8" y="555.2" width="2.8" height="2.8"/>
<rect x="321.8" y="557.8" width="2.8" height="2.8"/>
<rect x="326.7" y="557.1" width="2.8" height="2.8"/>
<rect x="334.2" y="557.3" width="2.8" height="2.8"/>
<rect x="340.0" y="557.5" width="2.8" height="2.8"/>
<rect x="347.5" y="556.9" width="2.8" height="2.8"/>
<rect x="324.3" y="560.7" width="2.8" height="2.8"/>
<rect x="330.2" y="561.3" width="2.8" height="2.8"/>
<rect x="343.6" y="559.9" width="2.8" height="2.8"/>
<rect x="320.7" y="564.3" width="2.8" height="2.8"/>
<rect x="327.6" y="564.2" width="2.8" height="2.8"/>
<rect x="333.9" y="562.8" width="2.8" height="2.8"/>
<rect x="339.7" y="564.5" width="2.8" height="2.8"/>
<rect x="346.9" y="563.3" width="2.8" height="2.8"/>
<rect x="324.7" y="566.4" width="2.8" height="2.8"/>
<rect x="331.2" y="565.7" width="2.8" height="2.8"/>
<rect x="337.0" y="566.0" width="2.8" height="2.8"/>
<rect x="343.6" y="566.0" width="2.8" height="2.8"/>
<rect x="320.6" y="569.7" width="2.8" height="2.8"/>
<rect x="327.7" y="568.8" width="2.8" height="2.8"/>
<rect x="333.2" y="570.4" width="2.8" height="2.8"/>
<rect x="340.2" y="569.4" width="2.8" height="2.8"/>
<rect x="347.0" y="570.1" width="2.8" height="2.8"/>
<rect x="324.2" y="573.5" width="2.8" height="2.8"/>
<rect x="331.3" y="572.4" width="2.8" height="2.8"/>
<rect x="337.2" y="573.3" width="2.8" height="2.8"/>
<rect x="343.5" y="572.5" width="2.8" height="2.8"/>
<rect x="320.7" y="574.8" width="2.8" height="2.8"/>
<rect x="328.2" y="576.0" width="2.8" height="2.8"/>
<rect x="334.3" y="575.2" width="2.8" height="2.8"/>
<rect x="339.5" y="574.9" width="2.8" height="2.8"/>
<rect x="346.6" y="575.4" width="2.8" height="2.8"/>
<rect x="321.4" y="577.6" width="2.8" height="2.8"/>
<rect x="327.1" y="577.4" width="2.8" height="2.8"/>
<rect x="333.1" y="578.3" width="2.8" height="2.8"/>
<rect x="340.5" y="578.3" width="2.8" height="2.8"/>
<rect x="347.2" y="577.1" width="2.8" height="2.8"/>
<rect x="324.4" y="580.3" width="2.8" height="2.8"/>
<rect x="331.2" y="578.9" width="2.8" height="2.8"/>
<rect x="337.9" y="578.7" width="2.8" height="2.8"/>
<rect x="343.1" y="579.3" width="2.8" height="2.8"/>
<rect x="321.8" y="582.2" width="2.8" height="2.8"/>
<rect x="327.2" y="581.8" width="2.8" height="2.8"/>
<rect x="333.0" y="582.3" width="2.8" height="2.8"/>
<rect x="340.2" y="582.4" width="2.8" height="2.8"/>
<rect x="346.6" y="581.1" width="2.8" height="2.8"/>
<rect x="325.0" y="584.3" width="2.8" height="2.8"/>
<rect x="331.2" y="583.3" width="2.8" height="2.8"/>
<rect x="336.4" y="584.3" width="2.8" height="2.8"/>
<rect x="342.9" y="583.8" width="2.8" height="2.8"/>
<rect x="321.7" y="584.8" width="2.8" height="2.8"/>
<rect x="327.8" y="585.3" width="2.8" height="2.8"/>
<rect x="334.5" y="586.0" width="2.8" height="2.8"/>
<rect x="340.6" y="586.4" width="2.8" height="2.8"/>
<rect x="345.9" y="585.1" width="2.8" height="2.8"/>
<rect x="324.6" y="587.1" width="2.8" height="2.8"/>
<rect x="330.2" y="587.9" width="2.8" height="2.8"/>
<rect x="336.8" y="587.9" width="2.8" height="2.8"/>
<rect x="343.6" y="587.1" width="2.8" height="2.8"/>
<rect x="321.8" y="589.9" width="2.8" height="2.8"/>
<rect x="327.7" y="588.9" width="2.8" height="2.8"/>
<rect x="333.7" y="589.7" width="2.8" height="2.8"/>
<rect x="339.4" y="589.8" width="2.8" height="2.8"/>
<rect x="346.2" y="590.1" width="2.8" height="2.8"/>
<rect x="320.7" y="593.1" width="2.8" height="2.8"/>
<rect x="327.0" y="592.7" width="2.8" height="2.8"/>
<rect x="334.6" y="593.5" width="2.8" height="2.8"/>
<rect x="340.2" y="593.1" width="2.8" height="2.8"/>
<rect x="347.4" y="592.6" width="2.8" height="2.8"/>
<rect x="324.3" y="595.9" width="2.8" height="2.8"/>
<rect x="330.9" y="596.1" width="2.8" height="2.8"/>
<rect x="337.1" y="596.2" width="2.8" height="2.8"/>
<rect x="343.5" y="596.4" width="2.8" height="2.8"/>
<rect x="321.5" y="598.0" width="2.8" height="2.8"/>
<rect x="327.0" y="598.5" width="2.8" height="2.8"/>
<rect x="334.4" y="599.1" width="2.8" height="2.8"/>
<rect x="340.2" y="598.1" width="2.8" height="2.8"/>
<rect x="346.6" y="597.8" width="2.8" height="2.8"/>
<rect x="324.6" y="601.7" width="2.8" height="2.8"/>
<rect x="330.1" y="601.0" width="2.8" height="2.8"/>
<rect x="337.0" y="601.5" width="2.8" height="2.8"/>
<rect x="343.0" y="602.1" width="2.8" height="2.8"/>
<rect x="321.8" y="604.7" width="2.8" height="2.8"/>
<rect x="328.0" y="604.1" width="2.8" height="2.8"/>
<rect x="333.5" y="603.8" width="2.8" height="2.8"/>
<rect x="340.5" y="604.6" width="2.8" height="2.8"/>
<rect x="346.8" y="603.9" width="2.8" height="2.8"/>
<rect x="323.6" y="607.2" width="2.8" height="2.8"/>
<rect x="331.0" y="608.2" width="2.8" height="2.8"/>
<rect x="336.3" y="607.4" width="2.8" height="2.8"/>
<rect x="342.9" y="608.4" width="2.8" height="2.8"/>
<rect x="321.0" y="611.1" width="2.8" height="2.8"/>
<rect x="333.8" y="611.0" width="2.8" height="2.8"/>
<rect x="339.8" y="611.3" width="2.8" height="2.8"/>
<rect x="346.4" y="610.2" width="2.8" height="2.8"/>
<rect x="323.5" y="612.8" width="2.8" height="2.8"/>
<rect x="337.5" y="613.1" width="2.8" height="2.8"/>
<rect x="343.5" y="613.1" width="2.8" height="2.8"/>
<rect x="321.8" y="616.4" width="2.8" height="2.8"/>
<rect x="328.3" y="616.8" width="2.8" height="2.8"/>
<rect x="333.7" y="616.9" width="2.8" height="2.8"/>
<rect x="340.0" y="617.0" width="2.8" height="2.8"/>
<rect x="346.8" y="617.3" width="2.8" height="2.8"/>
<rect x="324.0" y="620.2" width="2.8" height="2.8"/>
<rect x="331.1" y="619.1" width="2.8" height="2.8"/>
<rect x="336.5" y="619.7" width="2.8" height="2.8"/>
<rect x="342.9" y="619.1" width="2.8" height="2.8"/>
<rect x="320.7" y="620.5" width="2.8" height="2.8"/>
<rect x="327.8" y="621.3" width="2.8" height="2.8"/>
<rect x="333.6" y="619.8" width="2.8" height="2.8"/>
<rect x="340.0" y="620.2" width="2.8" height="2.8"/>
<rect x="346.1" y="620.2" width="2.8" height="2.8"/>
<rect x="325.0" y="623.0" width="2.8" height="2.8"/>
<rect x="330.4" y="622.0" width="2.8" height="2.8"/>
<rect x="336.8" y="623.1" width="2.8" height="2.8"/>
<rect x="344.2" y="621.7" width="2.8" height="2.8"/>
<rect x="320.8" y="623.8" width="2.8" height="2.8"/>
<rect x="327.1" y="625.1" width="2.8" height="2.8"/>
<rect x="333.0" y="624.4" width="2.8" height="2.8"/>
<rect x="339.4" y="624.0" width="2.8" height="2.8"/>
<rect x="345.8" y="624.3" width="2.8" height="2.8"/>
<rect x="324.3" y="625.9" width="2.8" height="2.8"/>
<rect x="330.2" y="627.0" width="2.8" height="2.8"/>
<rect x="336.4" y="626.1" width="2.8" height="2.8"/>
<rect x="343.8" y="626.4" width="2.8" height="2.8"/>
<rect x="321.7" y="628.1" width="2.8" height="2.8"/>
<rect x="327.2" y="628.1" width="2.8" height="2.8"/>
<rect x="333.0" y="628.8" width="2.8" height="2.8"/>
<rect x="340.8" y="629.5" width="2.8" height="2.8"/>
<rect x="346.9" y="629.4" width="2.8" height="2.8"/>
<rect x="324.6" y="630.9" width="2.8" height="2.8"/>
<rect x="331.3" y="630.1" width="2.8" height="2.8"/>
<rect x="336.3" y="630.5" width="2.8" height="2.8"/>
<rect x="342.6" y="630.4" width="2.8" height="2.8"/>
<rect x="321.0" y="632.2" width="2.8" height="2.8"/>
<rect x="327.3" y="632.6" width="2.8" height="2.8"/>
<rect x="334.1" y="632.1" width="2.8" height="2.8"/>
<rect x="340.0" y="632.5" width="2.8" height="2.8"/>
<rect x="346.8" y="633.0" width="2.8" height="2.8"/>
<rect x="324.6" y="633.7" width="2.8" height="2.8"/>
<rect x="330.4" y="633.8" width="2.8" height="2.8"/>
<rect x="336.2" y="634.6" width="2.8" height="2.8"/>
<rect x="343.4" y="634.3" width="2.8" height="2.8"/>
<rect x="320.2" y="636.3" width="2.8" height="2.8"/>
<rect x="327.6" y="636.2" width="2.8" height="2.8"/>
<rect x="333.3" y="636.5" width="2.8" height="2.8"/>
<rect x="341.1" y="636.4" width="2.8" height="2.8"/>
<rect x="347.4" y="637.1" width="2.8" height="2.8"/>
<rect x="324.5" y="638.4" width="2.8" height="2.8"/>
<rect x="330.2" y="639.2" width="2.8" height="2.8"/>
<rect x="336.8" y="639.3" width="2.8" height="2.8"/>
<rect x="342.8" y="638.6" width="2.8" height="2.8"/>
<rect x="384.8" y="545.6" width="2.8" height="2.8"/>
<rect x="391.2" y="570.3" width="2.8" height="2.8"/>
<rect x="384.8" y="576.6" width="2.8" height="2.8"/>
<rect x="384.8" y="586.8" width="2.8" height="2.8"/>
<rect x="384.8" y="596.9" width="2.8" height="2.8"/>
<rect x="384.8" y="603.2" width="2.8" height="2.8"/>
<rect x="378.6" y="613.1" width="2.8" height="2.8"/>
<rect x="384.8" y="613.6" width="2.8" height="2.8"/>
<rect x="391.1" y="613.6" width="2.8" height="2.8"/>
<rect x="372.6" y="620.6" width="2.8" height="2.8"/>
<rect x="378.6" y="621.6" width="2.8" height="2.8"/>
<rect x="384.6" y="620.6" width="2.8" height="2.8"/>
<rect x="390.6" y="621.6" width="2.8" height="2.8"/>
<rect x="396.6" y="620.6" width="2.8" height="2.8"/>
<rect x="372.0" y="624.5" width="2.8" height="2.8"/>
<rect x="378.1" y="623.1" width="2.8" height="2.8"/>
<rect x="384.6" y="622.7" width="2.8" height="2.8"/>
<rect x="391.3" y="623.1" width="2.8" height="2.8"/>
<rect x="398.2" y="623.7" width="2.8" height="2.8"/>
<rect x="369.2" y="627.4" width="2.8" height="2.8"/>
<rect x="381.6" y="627.5" width="2.8" height="2.8"/>
<rect x="388.7" y="627.2" width="2.8" height="2.8"/>
<rect x="395.5" y="627.4" width="2.8" height="2.8"/>
<rect x="401.3" y="626.8" width="2.8" height="2.8"/>
<rect x="372.1" y="629.6" width="2.8" height="2.8"/>
<rect x="378.8" y="629.5" width="2.8" height="2.8"/>
<rect x="384.8" y="629.4" width="2.8" height="2.8"/>
<rect x="390.8" y="629.2" width="2.8" height="2.8"/>
<rect x="397.2" y="630.4" width="2.8" height="2.8"/>
<rect x="369.0" y="633.7" width="2.8" height="2.8"/>
<rect x="374.9" y="633.9" width="2.8" height="2.8"/>
<rect x="381.1" y="632.8" width="2.8" height="2.8"/>
<rect x="388.8" y="633.0" width="2.8" height="2.8"/>
<rect x="394.3" y="633.6" width="2.8" height="2.8"/>
<rect x="400.8" y="633.7" width="2.8" height="2.8"/>
<rect x="372.9" y="636.5" width="2.8" height="2.8"/>
<rect x="379.1" y="636.6" width="2.8" height="2.8"/>
<rect x="385.6" y="635.7" width="2.8" height="2.8"/>
<rect x="391.8" y="635.9" width="2.8" height="2.8"/>
<rect x="397.0" y="636.6" width="2.8" height="2.8"/>
<rect x="382.2" y="639.5" width="2.8" height="2.8"/>
<rect x="388.1" y="640.4" width="2.8" height="2.8"/>
<rect x="401.5" y="638.9" width="2.8" height="2.8"/>
<rect x="436.3" y="474.2" width="2.8" height="2.8"/>
<rect x="430.0" y="481.6" width="2.8" height="2.8"/>
<rect x="442.6" y="480.7" width="2.8" height="2.8"/>
<rect x="436.3" y="484.6" width="2.8" height="2.8"/>
<rect x="430.0" y="488.7" width="2.8" height="2.8"/>
<rect x="442.6" y="488.7" width="2.8" height="2.8"/>
<rect x="436.3" y="491.8" width="2.8" height="2.8"/>
<rect x="423.2" y="495.0" width="2.8" height="2.8"/>
<rect x="429.3" y="494.3" width="2.8" height="2.8"/>
<rect x="436.4" y="494.6" width="2.8" height="2.8"/>
<rect x="442.4" y="495.1" width="2.8" height="2.8"/>
<rect x="448.8" y="494.4" width="2.8" height="2.8"/>
<rect x="427.2" y="498.3" width="2.8" height="2.8"/>
<rect x="433.5" y="497.5" width="2.8" height="2.8"/>
<rect x="438.9" y="496.8" width="2.8" height="2.8"/>
<rect x="446.7" y="497.0" width="2.8" height="2.8"/>
<rect x="422.9" y="499.9" width="2.8" height="2.8"/>
<rect x="430.1" y="499.6" width="2.8" height="2.8"/>
<rect x="436.0" y="499.7" width="2.8" height="2.8"/>
<rect x="442.5" y="499.8" width="2.8" height="2.8"/>
<rect x="448.4" y="500.9" width="2.8" height="2.8"/>
<rect x="426.0" y="502.4" width="2.8" height="2.8"/>
<rect x="434.1" y="502.5" width="2.8" height="2.8"/>
<rect x="439.5" y="502.8" width="2.8" height="2.8"/>
<rect x="445.8" y="502.2" width="2.8" height="2.8"/>
<rect x="423.8" y="506.0" width="2.8" height="2.8"/>
<rect x="430.7" y="506.5" width="2.8" height="2.8"/>
<rect x="436.3" y="506.4" width="2.8" height="2.8"/>
<rect x="442.2" y="504.9" width="2.8" height="2.8"/>
<rect x="448.5" y="505.0" width="2.8" height="2.8"/>
<rect x="427.2" y="508.3" width="2.8" height="2.8"/>
<rect x="432.3" y="508.1" width="2.8" height="2.8"/>
<rect x="438.7" y="508.6" width="2.8" height="2.8"/>
<rect x="446.5" y="509.0" width="2.8" height="2.8"/>
<rect x="424.1" y="512.0" width="2.8" height="2.8"/>
<rect x="430.8" y="510.7" width="2.8" height="2.8"/>
<rect x="436.2" y="511.8" width="2.8" height="2.8"/>
<rect x="443.5" y="510.5" width="2.8" height="2.8"/>
<rect x="448.7" y="511.2" width="2.8" height="2.8"/>
<rect x="427.0" y="514.8" width="2.8" height="2.8"/>
<rect x="433.4" y="513.9" width="2.8" height="2.8"/>
<rect x="440.3" y="513.9" width="2.8" height="2.8"/>
<rect x="445.7" y="514.6" width="2.8" height="2.8"/>
<rect x="424.0" y="517.1" width="2.8" height="2.8"/>
<rect x="429.4" y="516.3" width="2.8" height="2.8"/>
<rect x="436.1" y="516.9" width="2.8" height="2.8"/>
<rect x="442.8" y="516.8" width="2.8" height="2.8"/>
<rect x="449.2" y="517.8" width="2.8" height="2.8"/>
<rect x="427.4" y="519.5" width="2.8" height="2.8"/>
<rect x="432.5" y="520.7" width="2.8" height="2.8"/>
<rect x="440.4" y="519.3" width="2.8" height="2.8"/>
<rect x="446.3" y="519.2" width="2.8" height="2.8"/>
<rect x="423.9" y="523.4" width="2.8" height="2.8"/>
<rect x="429.4" y="522.3" width="2.8" height="2.8"/>
<rect x="435.7" y="522.8" width="2.8" height="2.8"/>
<rect x="443.0" y="522.1" width="2.8" height="2.8"/>
<rect x="449.9" y="523.2" width="2.8" height="2.8"/>
<rect x="426.8" y="525.5" width="2.8" height="2.8"/>
<rect x="433.8" y="525.7" width="2.8" height="2.8"/>
<rect x="439.9" y="525.3" width="2.8" height="2.8"/>
<rect x="445.5" y="525.6" width="2.8" height="2.8"/>
<rect x="423.6" y="527.4" width="2.8" height="2.8"/>
<rect x="429.9" y="528.4" width="2.8" height="2.8"/>
<rect x="437.1" y="527.6" width="2.8" height="2.8"/>
<rect x="443.6" y="528.6" width="2.8" height="2.8"/>
<rect x="449.6" y="529.1" width="2.8" height="2.8"/>
<rect x="427.4" y="530.3" width="2.8" height="2.8"/>
<rect x="433.1" y="530.5" width="2.8" height="2.8"/>
<rect x="439.8" y="531.8" width="2.8" height="2.8"/>
<rect x="446.5" y="531.0" width="2.8" height="2.8"/>
<rect x="422.8" y="534.5" width="2.8" height="2.8"/>
<rect x="429.5" y="534.4" width="2.8" height="2.8"/>
<rect x="436.4" y="534.5" width="2.8" height="2.8"/>
<rect x="442.4" y="534.1" width="2.8" height="2.8"/>
<rect x="449.3" y="534.3" width="2.8" height="2.8"/>
<rect x="426.3" y="537.1" width="2.8" height="2.8"/>
<rect x="433.6" y="536.7" width="2.8" height="2.8"/>
<rect x="440.1" y="536.0" width="2.8" height="2.8"/>
<rect x="445.2" y="535.8" width="2.8" height="2.8"/>
<rect x="424.2" y="540.2" width="2.8" height="2.8"/>
<rect x="429.4" y="539.4" width="2.8" height="2.8"/>
<rect x="436.6" y="540.3" width="2.8" height="2.8"/>
<rect x="443.6" y="539.1" width="2.8" height="2.8"/>
<rect x="449.8" y="540.0" width="2.8" height="2.8"/>
<rect x="427.1" y="541.9" width="2.8" height="2.8"/>
<rect x="432.9" y="541.7" width="2.8" height="2.8"/>
<rect x="439.2" y="542.2" width="2.8" height="2.8"/>
<rect x="445.4" y="541.3" width="2.8" height="2.8"/>
<rect x="423.5" y="543.7" width="2.8" height="2.8"/>
<rect x="430.8" y="544.6" width="2.8" height="2.8"/>
<rect x="435.8" y="545.3" width="2.8" height="2.8"/>
<rect x="443.2" y="544.1" width="2.8" height="2.8"/>
<rect x="449.0" y="543.8" width="2.8" height="2.8"/>
<rect x="426.6" y="547.4" width="2.8" height="2.8"/>
<rect x="433.1" y="546.8" width="2.8" height="2.8"/>
<rect x="439.3" y="547.2" width="2.8" height="2.8"/>
<rect x="446.1" y="546.4" width="2.8" height="2.8"/>
<rect x="423.2" y="549.8" width="2.8" height="2.8"/>
<rect x="429.9" y="550.0" width="2.8" height="2.8"/>
<rect x="436.8" y="549.4" width="2.8" height="2.8"/>
<rect x="442.0" y="549.1" width="2.8" height="2.8"/>
<rect x="449.1" y="550.0" width="2.8" height="2.8"/>
<rect x="423.9" y="551.9" width="2.8" height="2.8"/>
<rect x="429.8" y="550.9" width="2.8" height="2.8"/>
<rect x="435.9" y="551.5" width="2.8" height="2.8"/>
<rect x="443.3" y="552.2" width="2.8" height="2.8"/>
<rect x="449.2" y="550.9" width="2.8" height="2.8"/>
<rect x="426.0" y="553.0" width="2.8" height="2.8"/>
<rect x="433.6" y="553.5" width="2.8" height="2.8"/>
<rect x="440.3" y="554.0" width="2.8" height="2.8"/>
<rect x="446.2" y="553.1" width="2.8" height="2.8"/>
<rect x="423.5" y="555.3" width="2.8" height="2.8"/>
<rect x="430.1" y="556.4" width="2.8" height="2.8"/>
<rect x="437.2" y="555.4" width="2.8" height="2.8"/>
<rect x="443.0" y="556.0" width="2.8" height="2.8"/>
<rect x="448.4" y="555.5" width="2.8" height="2.8"/>
<rect x="420.6" y="556.7" width="2.8" height="2.8"/>
<rect x="426.2" y="557.0" width="2.8" height="2.8"/>
<rect x="433.0" y="557.6" width="2.8" height="2.8"/>
<rect x="439.0" y="557.5" width="2.8" height="2.8"/>
<rect x="446.4" y="556.8" width="2.8" height="2.8"/>
<rect x="452.8" y="557.7" width="2.8" height="2.8"/>
<rect x="423.5" y="557.9" width="2.8" height="2.8"/>
<rect x="430.8" y="559.5" width="2.8" height="2.8"/>
<rect x="436.1" y="558.9" width="2.8" height="2.8"/>
<rect x="442.1" y="559.3" width="2.8" height="2.8"/>
<rect x="449.2" y="558.1" width="2.8" height="2.8"/>
<rect x="419.7" y="559.7" width="2.8" height="2.8"/>
<rect x="426.4" y="560.9" width="2.8" height="2.8"/>
<rect x="433.0" y="559.6" width="2.8" height="2.8"/>
<rect x="439.5" y="560.5" width="2.8" height="2.8"/>
<rect x="446.6" y="559.7" width="2.8" height="2.8"/>
<rect x="451.7" y="561.2" width="2.8" height="2.8"/>
<rect x="423.4" y="562.2" width="2.8" height="2.8"/>
<rect x="430.8" y="561.8" width="2.8" height="2.8"/>
<rect x="435.7" y="562.6" width="2.8" height="2.8"/>
<rect x="443.1" y="561.4" width="2.8" height="2.8"/>
<rect x="448.3" y="561.3" width="2.8" height="2.8"/>
<rect x="421.2" y="563.9" width="2.8" height="2.8"/>
<rect x="425.9" y="563.4" width="2.8" height="2.8"/>
<rect x="432.7" y="562.9" width="2.8" height="2.8"/>
<rect x="439.3" y="563.6" width="2.8" height="2.8"/>
<rect x="446.7" y="564.4" width="2.8" height="2.8"/>
<rect x="452.4" y="564.3" width="2.8" height="2.8"/>
<rect x="423.2" y="565.6" width="2.8" height="2.8"/>
<rect x="429.7" y="565.1" width="2.8" height="2.8"/>
<rect x="436.1" y="565.1" width="2.8" height="2.8"/>
<rect x="441.9" y="565.8" width="2.8" height="2.8"/>
<rect x="449.2" y="565.3" width="2.8" height="2.8"/>
<rect x="419.9" y="566.1" width="2.8" height="2.8"/>
<rect x="426.4" y="566.8" width="2.8" height="2.8"/>
<rect x="433.6" y="566.8" width="2.8" height="2.8"/>
<rect x="439.4" y="567.6" width="2.8" height="2.8"/>
<rect x="446.1" y="567.6" width="2.8" height="2.8"/>
<rect x="452.5" y="566.6" width="2.8" height="2.8"/>
<rect x="423.8" y="568.6" width="2.8" height="2.8"/>
<rect x="430.0" y="568.4" width="2.8" height="2.8"/>
<rect x="435.6" y="567.7" width="2.8" height="2.8"/>
<rect x="442.3" y="568.9" width="2.8" height="2.8"/>
<rect x="449.8" y="568.2" width="2.8" height="2.8"/>
<rect x="420.7" y="569.3" width="2.8" height="2.8"/>
<rect x="427.4" y="569.7" width="2.8" height="2.8"/>
<rect x="433.7" y="570.5" width="2.8" height="2.8"/>
<rect x="438.8" y="570.5" width="2.8" height="2.8"/>
<rect x="446.2" y="570.1" width="2.8" height="2.8"/>
<rect x="452.6" y="569.1" width="2.8" height="2.8"/>
<rect x="424.0" y="571.7" width="2.8" height="2.8"/>
<rect x="430.4" y="571.5" width="2.8" height="2.8"/>
<rect x="437.2" y="572.4" width="2.8" height="2.8"/>
<rect x="443.3" y="571.5" width="2.8" height="2.8"/>
<rect x="448.9" y="571.5" width="2.8" height="2.8"/>
<rect x="419.7" y="572.9" width="2.8" height="2.8"/>
<rect x="426.0" y="572.5" width="2.8" height="2.8"/>
<rect x="433.5" y="573.3" width="2.8" height="2.8"/>
<rect x="438.9" y="572.9" width="2.8" height="2.8"/>
<rect x="446.1" y="574.0" width="2.8" height="2.8"/>
<rect x="452.2" y="573.3" width="2.8" height="2.8"/>
<rect x="422.9" y="575.5" width="2.8" height="2.8"/>
<rect x="429.1" y="574.7" width="2.8" height="2.8"/>
<rect x="436.7" y="575.6" width="2.8" height="2.8"/>
<rect x="443.1" y="574.6" width="2.8" height="2.8"/>
<rect x="448.4" y="575.2" width="2.8" height="2.8"/>
<rect x="420.5" y="575.9" width="2.8" height="2.8"/>
<rect x="426.2" y="576.1" width="2.8" height="2.8"/>
<rect x="433.2" y="576.2" width="2.8" height="2.8"/>
<rect x="440.2" y="576.1" width="2.8" height="2.8"/>
<rect x="445.9" y="577.3" width="2.8" height="2.8"/>
<rect x="452.7" y="575.9" width="2.8" height="2.8"/>
<rect x="424.0" y="578.1" width="2.8" height="2.8"/>
<rect x="429.2" y="578.6" width="2.8" height="2.8"/>
<rect x="436.7" y="577.9" width="2.8" height="2.8"/>
<rect x="442.9" y="578.9" width="2.8" height="2.8"/>
<rect x="449.1" y="578.0" width="2.8" height="2.8"/>
<rect x="420.8" y="578.9" width="2.8" height="2.8"/>
<rect x="427.4" y="578.8" width="2.8" height="2.8"/>
<rect x="433.3" y="579.7" width="2.8" height="2.8"/>
<rect x="438.9" y="580.4" width="2.8" height="2.8"/>
<rect x="446.5" y="578.9" width="2.8" height="2.8"/>
<rect x="451.9" y="579.1" width="2.8" height="2.8"/>
<rect x="423.8" y="580.5" width="2.8" height="2.8"/>
<rect x="430.1" y="581.9" width="2.8" height="2.8"/>
<rect x="436.7" y="581.0" width="2.8" height="2.8"/>
<rect x="443.2" y="580.8" width="2.8" height="2.8"/>
<rect x="449.6" y="580.8" width="2.8" height="2.8"/>
<rect x="419.5" y="582.9" width="2.8" height="2.8"/>
<rect x="426.4" y="582.4" width="2.8" height="2.8"/>
<rect x="433.1" y="582.4" width="2.8" height="2.8"/>
<rect x="439.2" y="582.8" width="2.8" height="2.8"/>
<rect x="445.3" y="583.4" width="2.8" height="2.8"/>
<rect x="452.6" y="582.9" width="2.8" height="2.8"/>
<rect x="423.6" y="584.7" width="2.8" height="2.8"/>
<rect x="430.5" y="584.0" width="2.8" height="2.8"/>
<rect x="437.1" y="584.2" width="2.8" height="2.8"/>
<rect x="442.3" y="584.3" width="2.8" height="2.8"/>
<rect x="449.6" y="585.2" width="2.8" height="2.8"/>
<rect x="420.5" y="585.7" width="2.8" height="2.8"/>
<rect x="427.6" y="585.3" width="2.8" height="2.8"/>
<rect x="433.4" y="585.2" width="2.8" height="2.8"/>
<rect x="438.8" y="586.1" width="2.8" height="2.8"/>
<rect x="446.8" y="585.7" width="2.8" height="2.8"/>
<rect x="451.6" y="586.3" width="2.8" height="2.8"/>
<rect x="422.7" y="587.7" width="2.8" height="2.8"/>
<rect x="430.3" y="588.2" width="2.8" height="2.8"/>
<rect x="436.4" y="586.8" width="2.8" height="2.8"/>
<rect x="442.2" y="587.6" width="2.8" height="2.8"/>
<rect x="449.2" y="587.1" width="2.8" height="2.8"/>
<rect x="420.2" y="589.2" width="2.8" height="2.8"/>
<rect x="426.7" y="589.3" width="2.8" height="2.8"/>
<rect x="433.3" y="588.5" width="2.8" height="2.8"/>
<rect x="439.3" y="589.6" width="2.8" height="2.8"/>
<rect x="446.8" y="590.0" width="2.8" height="2.8"/>
<rect x="453.0" y="590.0" width="2.8" height="2.8"/>
<rect x="423.5" y="591.0" width="2.8" height="2.8"/>
<rect x="430.2" y="591.0" width="2.8" height="2.8"/>
<rect x="435.6" y="590.8" width="2.8" height="2.8"/>
<rect x="441.9" y="590.1" width="2.8" height="2.8"/>
<rect x="450.0" y="589.9" width="2.8" height="2.8"/>
<rect x="421.0" y="592.7" width="2.8" height="2.8"/>
<rect x="426.9" y="592.9" width="2.8" height="2.8"/>
<rect x="432.3" y="591.6" width="2.8" height="2.8"/>
<rect x="440.4" y="593.0" width="2.8" height="2.8"/>
<rect x="445.7" y="592.1" width="2.8" height="2.8"/>
<rect x="452.8" y="592.0" width="2.8" height="2.8"/>
<rect x="423.6" y="593.7" width="2.8" height="2.8"/>
<rect x="429.9" y="593.5" width="2.8" height="2.8"/>
<rect x="435.8" y="593.4" width="2.8" height="2.8"/>
<rect x="442.7" y="594.5" width="2.8" height="2.8"/>
<rect x="448.7" y="594.3" width="2.8" height="2.8"/>
<rect x="420.4" y="595.2" width="2.8" height="2.8"/>
<rect x="426.2" y="595.1" width="2.8" height="2.8"/>
<rect x="432.9" y="596.0" width="2.8" height="2.8"/>
<rect x="440.1" y="595.7" width="2.8" height="2.8"/>
<rect x="446.4" y="595.1" width="2.8" height="2.8"/>
<rect x="452.2" y="596.5" width="2.8" height="2.8"/>
<rect x="423.3" y="597.3" width="2.8" height="2.8"/>
<rect x="429.8" y="595.9" width="2.8" height="2.8"/>
<rect x="436.9" y="596.3" width="2.8" height="2.8"/>
<rect x="442.5" y="596.2" width="2.8" height="2.8"/>
<rect x="449.6" y="596.6" width="2.8" height="2.8"/>
<rect x="425.9" y="598.2" width="2.8" height="2.8"/>
<rect x="432.4" y="598.9" width="2.8" height="2.8"/>
<rect x="439.0" y="598.9" width="2.8" height="2.8"/>
<rect x="446.7" y="597.9" width="2.8" height="2.8"/>
<rect x="430.3" y="601.4" width="2.8" height="2.8"/>
<rect x="435.7" y="600.9" width="2.8" height="2.8"/>
<rect x="443.2" y="601.4" width="2.8" height="2.8"/>
<rect x="448.9" y="599.9" width="2.8" height="2.8"/>
<rect x="427.5" y="602.8" width="2.8" height="2.8"/>
<rect x="432.9" y="602.8" width="2.8" height="2.8"/>
<rect x="439.0" y="602.9" width="2.8" height="2.8"/>
<rect x="446.0" y="603.7" width="2.8" height="2.8"/>
<rect x="423.6" y="607.4" width="2.8" height="2.8"/>
<rect x="429.5" y="605.8" width="2.8" height="2.8"/>
<rect x="436.8" y="607.4" width="2.8" height="2.8"/>
<rect x="442.1" y="606.3" width="2.8" height="2.8"/>
<rect x="448.8" y="607.1" width="2.8" height="2.8"/>
<rect x="433.3" y="610.2" width="2.8" height="2.8"/>
<rect x="439.0" y="610.4" width="2.8" height="2.8"/>
<rect x="424.0" y="612.4" width="2.8" height="2.8"/>
<rect x="429.4" y="612.0" width="2.8" height="2.8"/>
<rect x="435.8" y="611.7" width="2.8" height="2.8"/>
<rect x="443.3" y="612.6" width="2.8" height="2.8"/>
<rect x="449.1" y="612.0" width="2.8" height="2.8"/>
<rect x="429.6" y="615.2" width="2.8" height="2.8"/>
<rect x="436.1" y="619.5" width="2.8" height="2.8"/>
<rect x="442.1" y="616.5" width="2.8" height="2.8"/>
<rect x="448.6" y="614.3" width="2.8" height="2.8"/>
<rect x="423.6" y="612.6" width="2.8" height="2.8"/>
<rect x="487.8" y="459.9" width="2.8" height="2.8"/>
<rect x="481.4" y="470.5" width="2.8" height="2.8"/>
<rect x="487.8" y="471.4" width="2.8" height="2.8"/>
<rect x="475.1" y="479.8" width="2.8" height="2.8"/>
<rect x="481.4" y="480.7" width="2.8" height="2.8"/>
<rect x="487.8" y="482.8" width="2.8" height="2.8"/>
<rect x="494.1" y="482.4" width="2.8" height="2.8"/>
<rect x="500.4" y="479.8" width="2.8" height="2.8"/>
<rect x="481.4" y="484.9" width="2.8" height="2.8"/>
<rect x="487.8" y="488.7" width="2.8" height="2.8"/>
<rect x="475.1" y="492.1" width="2.8" height="2.8"/>
<rect x="474.5" y="492.8" width="2.8" height="2.8"/>
<rect x="481.4" y="493.4" width="2.8" height="2.8"/>
<rect x="487.8" y="493.3" width="2.8" height="2.8"/>
<rect x="494.7" y="493.7" width="2.8" height="2.8"/>
<rect x="500.5" y="493.5" width="2.8" height="2.8"/>
<rect x="478.8" y="495.9" width="2.8" height="2.8"/>
<rect x="485.1" y="497.1" width="2.8" height="2.8"/>
<rect x="490.8" y="497.3" width="2.8" height="2.8"/>
<rect x="496.6" y="496.8" width="2.8" height="2.8"/>
<rect x="475.0" y="498.6" width="2.8" height="2.8"/>
<rect x="480.8" y="498.5" width="2.8" height="2.8"/>
<rect x="487.3" y="499.3" width="2.8" height="2.8"/>
<rect x="494.8" y="499.2" width="2.8" height="2.8"/>
<rect x="499.5" y="499.2" width="2.8" height="2.8"/>
<rect x="478.2" y="502.2" width="2.8" height="2.8"/>
<rect x="483.7" y="502.0" width="2.8" height="2.8"/>
<rect x="491.1" y="502.8" width="2.8" height="2.8"/>
<rect x="497.1" y="501.3" width="2.8" height="2.8"/>
<rect x="474.3" y="505.4" width="2.8" height="2.8"/>
<rect x="480.8" y="505.5" width="2.8" height="2.8"/>
<rect x="487.5" y="504.9" width="2.8" height="2.8"/>
<rect x="494.0" y="504.8" width="2.8" height="2.8"/>
<rect x="501.0" y="504.8" width="2.8" height="2.8"/>
<rect x="477.5" y="507.1" width="2.8" height="2.8"/>
<rect x="485.0" y="508.5" width="2.8" height="2.8"/>
<rect x="491.2" y="508.1" width="2.8" height="2.8"/>
<rect x="497.8" y="508.1" width="2.8" height="2.8"/>
<rect x="475.4" y="510.0" width="2.8" height="2.8"/>
<rect x="482.0" y="509.5" width="2.8" height="2.8"/>
<rect x="487.3" y="510.9" width="2.8" height="2.8"/>
<rect x="494.8" y="511.2" width="2.8" height="2.8"/>
<rect x="499.6" y="510.7" width="2.8" height="2.8"/>
<rect x="478.9" y="513.9" width="2.8" height="2.8"/>
<rect x="483.9" y="513.5" width="2.8" height="2.8"/>
<rect x="491.7" y="513.4" width="2.8" height="2.8"/>
<rect x="497.6" y="512.4" width="2.8" height="2.8"/>
<rect x="475.3" y="516.5" width="2.8" height="2.8"/>
<rect x="481.3" y="516.8" width="2.8" height="2.8"/>
<rect x="487.6" y="515.8" width="2.8" height="2.8"/>
<rect x="493.2" y="515.4" width="2.8" height="2.8"/>
<rect x="499.9" y="516.3" width="2.8" height="2.8"/>
<rect x="475.2" y="517.6" width="2.8" height="2.8"/>
<rect x="480.8" y="517.0" width="2.8" height="2.8"/>
<rect x="488.0" y="518.4" width="2.8" height="2.8"/>
<rect x="494.8" y="518.3" width="2.8" height="2.8"/>
<rect x="501.2" y="517.8" width="2.8" height="2.8"/>
<rect x="478.5" y="519.2" width="2.8" height="2.8"/>
<rect x="484.5" y="519.5" width="2.8" height="2.8"/>
<rect x="491.5" y="519.6" width="2.8" height="2.8"/>
<rect x="497.7" y="519.0" width="2.8" height="2.8"/>
<rect x="475.0" y="520.9" width="2.8" height="2.8"/>
<rect x="480.4" y="520.6" width="2.8" height="2.8"/>
<rect x="487.7" y="522.2" width="2.8" height="2.8"/>
<rect x="493.9" y="521.2" width="2.8" height="2.8"/>
<rect x="500.4" y="522.2" width="2.8" height="2.8"/>
<rect x="477.9" y="523.6" width="2.8" height="2.8"/>
<rect x="484.5" y="523.6" width="2.8" height="2.8"/>
<rect x="491.5" y="522.9" width="2.8" height="2.8"/>
<rect x="498.1" y="523.3" width="2.8" height="2.8"/>
<rect x="475.3" y="524.4" width="2.8" height="2.8"/>
<rect x="481.3" y="524.8" width="2.8" height="2.8"/>
<rect x="488.0" y="524.9" width="2.8" height="2.8"/>
<rect x="494.3" y="525.6" width="2.8" height="2.8"/>
<rect x="500.3" y="524.5" width="2.8" height="2.8"/>
<rect x="478.8" y="527.8" width="2.8" height="2.8"/>
<rect x="483.6" y="526.7" width="2.8" height="2.8"/>
<rect x="490.7" y="526.4" width="2.8" height="2.8"/>
<rect x="497.4" y="527.5" width="2.8" height="2.8"/>
<rect x="475.1" y="529.3" width="2.8" height="2.8"/>
<rect x="480.4" y="529.4" width="2.8" height="2.8"/>
<rect x="486.8" y="529.0" width="2.8" height="2.8"/>
<rect x="493.3" y="528.8" width="2.8" height="2.8"/>
<rect x="499.7" y="529.8" width="2.8" height="2.8"/>
<rect x="478.0" y="531.1" width="2.8" height="2.8"/>
<rect x="485.3" y="530.2" width="2.8" height="2.8"/>
<rect x="490.3" y="531.6" width="2.8" height="2.8"/>
<rect x="497.1" y="530.7" width="2.8" height="2.8"/>
<rect x="474.4" y="533.3" width="2.8" height="2.8"/>
<rect x="481.1" y="532.6" width="2.8" height="2.8"/>
<rect x="487.5" y="532.5" width="2.8" height="2.8"/>
<rect x="493.9" y="532.4" width="2.8" height="2.8"/>
<rect x="500.3" y="532.8" width="2.8" height="2.8"/>
<rect x="477.9" y="534.5" width="2.8" height="2.8"/>
<rect x="485.3" y="535.2" width="2.8" height="2.8"/>
<rect x="491.1" y="535.1" width="2.8" height="2.8"/>
<rect x="497.6" y="535.5" width="2.8" height="2.8"/>
<rect x="475.1" y="536.5" width="2.8" height="2.8"/>
<rect x="480.7" y="537.1" width="2.8" height="2.8"/>
<rect x="488.5" y="536.3" width="2.8" height="2.8"/>
<rect x="493.2" y="536.4" width="2.8" height="2.8"/>
<rect x="500.0" y="536.8" width="2.8" height="2.8"/>
<rect x="477.8" y="539.4" width="2.8" height="2.8"/>
<rect x="485.2" y="537.7" width="2.8" height="2.8"/>
<rect x="491.4" y="539.1" width="2.8" height="2.8"/>
<rect x="497.4" y="538.9" width="2.8" height="2.8"/>
<rect x="475.3" y="540.7" width="2.8" height="2.8"/>
<rect x="481.6" y="540.7" width="2.8" height="2.8"/>
<rect x="488.5" y="539.9" width="2.8" height="2.8"/>
<rect x="493.7" y="541.0" width="2.8" height="2.8"/>
<rect x="500.0" y="540.7" width="2.8" height="2.8"/>
<rect x="478.0" y="542.8" width="2.8" height="2.8"/>
<rect x="485.1" y="543.7" width="2.8" height="2.8"/>
<rect x="491.4" y="543.3" width="2.8" height="2.8"/>
<rect x="497.4" y="543.3" width="2.8" height="2.8"/>
<rect x="475.7" y="546.3" width="2.8" height="2.8"/>
<rect x="481.0" y="546.7" width="2.8" height="2.8"/>
<rect x="487.3" y="546.5" width="2.8" height="2.8"/>
<rect x="494.6" y="546.0" width="2.8" height="2.8"/>
<rect x="500.2" y="546.3" width="2.8" height="2.8"/>
<rect x="477.8" y="549.3" width="2.8" height="2.8"/>
<rect x="484.1" y="549.7" width="2.8" height="2.8"/>
<rect x="490.4" y="548.4" width="2.8" height="2.8"/>
<rect x="496.5" y="549.5" width="2.8" height="2.8"/>
<rect x="474.4" y="551.6" width="2.8" height="2.8"/>
<rect x="480.4" y="552.2" width="2.8" height="2.8"/>
<rect x="487.1" y="552.0" width="2.8" height="2.8"/>
<rect x="493.7" y="552.3" width="2.8" height="2.8"/>
<rect x="500.4" y="551.3" width="2.8" height="2.8"/>
<rect x="478.6" y="553.8" width="2.8" height="2.8"/>
<rect x="485.3" y="553.2" width="2.8" height="2.8"/>
<rect x="491.0" y="553.1" width="2.8" height="2.8"/>
<rect x="496.9" y="553.6" width="2.8" height="2.8"/>
<rect x="475.4" y="556.5" width="2.8" height="2.8"/>
<rect x="480.6" y="555.5" width="2.8" height="2.8"/>
<rect x="487.1" y="556.5" width="2.8" height="2.8"/>
<rect x="493.5" y="555.6" width="2.8" height="2.8"/>
<rect x="500.8" y="555.0" width="2.8" height="2.8"/>
<rect x="477.2" y="558.5" width="2.8" height="2.8"/>
<rect x="484.6" y="557.2" width="2.8" height="2.8"/>
<rect x="490.6" y="558.8" width="2.8" height="2.8"/>
<rect x="497.9" y="557.1" width="2.8" height="2.8"/>
<rect x="474.0" y="560.4" width="2.8" height="2.8"/>
<rect x="480.8" y="560.3" width="2.8" height="2.8"/>
<rect x="487.3" y="559.9" width="2.8" height="2.8"/>
<rect x="494.1" y="559.7" width="2.8" height="2.8"/>
<rect x="500.0" y="559.6" width="2.8" height="2.8"/>
<rect x="477.1" y="561.8" width="2.8" height="2.8"/>
<rect x="484.0" y="561.4" width="2.8" height="2.8"/>
<rect x="490.8" y="562.1" width="2.8" height="2.8"/>
<rect x="497.9" y="562.6" width="2.8" height="2.8"/>
<rect x="475.1" y="564.5" width="2.8" height="2.8"/>
<rect x="481.1" y="564.0" width="2.8" height="2.8"/>
<rect x="487.6" y="564.3" width="2.8" height="2.8"/>
<rect x="494.5" y="564.9" width="2.8" height="2.8"/>
<rect x="499.6" y="563.8" width="2.8" height="2.8"/>
<rect x="478.6" y="566.5" width="2.8" height="2.8"/>
<rect x="483.9" y="567.0" width="2.8" height="2.8"/>
<rect x="491.2" y="566.6" width="2.8" height="2.8"/>
<rect x="497.1" y="566.1" width="2.8" height="2.8"/>
<rect x="475.5" y="569.3" width="2.8" height="2.8"/>
<rect x="481.8" y="567.6" width="2.8" height="2.8"/>
<rect x="488.5" y="568.5" width="2.8" height="2.8"/>
<rect x="493.7" y="569.1" width="2.8" height="2.8"/>
<rect x="501.3" y="567.6" width="2.8" height="2.8"/>
<rect x="477.1" y="569.9" width="2.8" height="2.8"/>
<rect x="484.7" y="569.8" width="2.8" height="2.8"/>
<rect x="491.6" y="570.4" width="2.8" height="2.8"/>
<rect x="497.4" y="570.6" width="2.8" height="2.8"/>
<rect x="474.8" y="573.3" width="2.8" height="2.8"/>
<rect x="480.7" y="572.5" width="2.8" height="2.8"/>
<rect x="487.3" y="572.7" width="2.8" height="2.8"/>
<rect x="493.2" y="572.1" width="2.8" height="2.8"/>
<rect x="499.9" y="571.8" width="2.8" height="2.8"/>
<rect x="477.7" y="575.5" width="2.8" height="2.8"/>
<rect x="483.7" y="574.9" width="2.8" height="2.8"/>
<rect x="491.4" y="575.1" width="2.8" height="2.8"/>
<rect x="496.4" y="573.9" width="2.8" height="2.8"/>
<rect x="474.2" y="576.3" width="2.8" height="2.8"/>
<rect x="480.6" y="576.8" width="2.8" height="2.8"/>
<rect x="487.3" y="576.4" width="2.8" height="2.8"/>
<rect x="493.5" y="577.0" width="2.8" height="2.8"/>
<rect x="501.2" y="576.0" width="2.8" height="2.8"/>
<rect x="474.6" y="580.2" width="2.8" height="2.8"/>
<rect x="481.6" y="579.0" width="2.8" height="2.8"/>
<rect x="488.5" y="579.1" width="2.8" height="2.8"/>
<rect x="494.8" y="579.9" width="2.8" height="2.8"/>
<rect x="499.9" y="579.1" width="2.8" height="2.8"/>
<rect x="478.6" y="583.2" width="2.8" height="2.8"/>
<rect x="491.1" y="582.6" width="2.8" height="2.8"/>
<rect x="497.2" y="582.0" width="2.8" height="2.8"/>
<rect x="474.6" y="586.1" width="2.8" height="2.8"/>
<rect x="480.4" y="586.9" width="2.8" height="2.8"/>
<rect x="487.3" y="585.4" width="2.8" height="2.8"/>
<rect x="494.8" y="585.4" width="2.8" height="2.8"/>
<rect x="500.4" y="586.5" width="2.8" height="2.8"/>
<rect x="477.5" y="588.6" width="2.8" height="2.8"/>
<rect x="483.7" y="589.9" width="2.8" height="2.8"/>
<rect x="490.3" y="589.1" width="2.8" height="2.8"/>
<rect x="497.4" y="589.6" width="2.8" height="2.8"/>
<rect x="475.2" y="591.6" width="2.8" height="2.8"/>
<rect x="480.6" y="591.8" width="2.8" height="2.8"/>
<rect x="486.8" y="593.1" width="2.8" height="2.8"/>
<rect x="493.3" y="591.6" width="2.8" height="2.8"/>
<rect x="500.6" y="593.1" width="2.8" height="2.8"/>
<rect x="477.3" y="595.2" width="2.8" height="2.8"/>
<rect x="483.7" y="595.1" width="2.8" height="2.8"/>
<rect x="490.2" y="595.0" width="2.8" height="2.8"/>
<rect x="497.0" y="595.0" width="2.8" height="2.8"/>
<rect x="474.8" y="598.6" width="2.8" height="2.8"/>
<rect x="480.4" y="599.0" width="2.8" height="2.8"/>
<rect x="487.3" y="597.9" width="2.8" height="2.8"/>
<rect x="494.2" y="598.6" width="2.8" height="2.8"/>
<rect x="501.2" y="598.1" width="2.8" height="2.8"/>
<rect x="478.4" y="601.8" width="2.8" height="2.8"/>
<rect x="485.2" y="601.2" width="2.8" height="2.8"/>
<rect x="490.4" y="602.5" width="2.8" height="2.8"/>
<rect x="497.6" y="602.8" width="2.8" height="2.8"/>
<rect x="474.6" y="605.8" width="2.8" height="2.8"/>
<rect x="480.5" y="606.1" width="2.8" height="2.8"/>
<rect x="488.3" y="605.0" width="2.8" height="2.8"/>
<rect x="494.8" y="605.9" width="2.8" height="2.8"/>
<rect x="501.1" y="606.1" width="2.8" height="2.8"/>
<rect x="478.3" y="609.2" width="2.8" height="2.8"/>
<rect x="484.2" y="608.5" width="2.8" height="2.8"/>
<rect x="491.3" y="607.6" width="2.8" height="2.8"/>
<rect x="496.8" y="608.1" width="2.8" height="2.8"/>
<rect x="474.3" y="611.5" width="2.8" height="2.8"/>
<rect x="482.1" y="611.2" width="2.8" height="2.8"/>
<rect x="488.0" y="611.0" width="2.8" height="2.8"/>
<rect x="493.5" y="611.7" width="2.8" height="2.8"/>
<rect x="499.5" y="610.7" width="2.8" height="2.8"/>
<rect x="477.7" y="614.4" width="2.8" height="2.8"/>
<rect x="490.0" y="615.2" width="2.8" height="2.8"/>
<rect x="497.2" y="615.2" width="2.8" height="2.8"/>
<rect x="475.6" y="617.9" width="2.8" height="2.8"/>
<rect x="481.0" y="617.7" width="2.8" height="2.8"/>
<rect x="487.6" y="618.3" width="2.8" height="2.8"/>
<rect x="494.5" y="618.8" width="2.8" height="2.8"/>
<rect x="500.6" y="617.4" width="2.8" height="2.8"/>
<rect x="477.9" y="620.6" width="2.8" height="2.8"/>
<rect x="484.6" y="621.5" width="2.8" height="2.8"/>
<rect x="496.5" y="620.4" width="2.8" height="2.8"/>
<rect x="475.4" y="624.7" width="2.8" height="2.8"/>
<rect x="481.9" y="624.2" width="2.8" height="2.8"/>
<rect x="487.9" y="623.5" width="2.8" height="2.8"/>
<rect x="493.2" y="623.8" width="2.8" height="2.8"/>
<rect x="500.5" y="623.7" width="2.8" height="2.8"/>
<rect x="475.1" y="634.6" width="2.8" height="2.8"/>
<rect x="481.4" y="636.7" width="2.8" height="2.8"/>
<rect x="487.8" y="638.9" width="2.8" height="2.8"/>
<rect x="493.6" y="634.6" width="2.8" height="2.8"/>
<rect x="500.4" y="632.5" width="2.8" height="2.8"/>
<rect x="480.6" y="630.6" width="2.8" height="2.8"/>
<rect x="493.6" y="629.6" width="2.8" height="2.8"/>
</g>
<line x1="318.2" y1="587" x2="352.2" y2="587" stroke="#000" stroke-width="1.6"/>
<line x1="420.8" y1="542.3" x2="454.8" y2="542.3" stroke="#000" stroke-width="1.6"/>
<line x1="472.0" y1="553.8" x2="506.0" y2="553.8" stroke="#000" stroke-width="1.6"/>
<text x="1.2" y="878.8" font-size="31.8" font-weight="bold" font-family="Liberation Sans, sans-serif">C</text>
<text transform="translate(23.1,1026.5) rotate(-90)" text-anchor="middle" font-size="20.1" font-weight="bold" font-family="Liberation Sans, sans-serif">IgM Concentration (µg/ml)</text>
<path d="M104.4,891.8 V1167 H515" fill="none" stroke="#000" stroke-width="2.9"/>
<line x1="97" y1="892.8" x2="104.4" y2="892.8" stroke="#000" stroke-width="2.5"/>
<text x="94.5" y="899.3" text-anchor="end" font-size="18.5" letter-spacing="0.4" font-weight="bold" font-family="Liberation Sans, sans-serif">100</text>
<line x1="97" y1="960.9" x2="104.4" y2="960.9" stroke="#000" stroke-width="2.5"/>
<text x="94.5" y="967.4" text-anchor="end" font-size="18.5" letter-spacing="0.4" font-weight="bold" font-family="Liberation Sans, sans-serif">10</text>
<line x1="97" y1="1029.3" x2="104.4" y2="1029.3" stroke="#000" stroke-width="2.5"/>
<text x="94.5" y="1035.8" text-anchor="end" font-size="18.5" letter-spacing="0.4" font-weight="bold" font-family="Liberation Sans, sans-serif">1</text>
<line x1="97" y1="1097.9" x2="104.4" y2="1097.9" stroke="#000" stroke-width="2.5"/>
<text x="94.5" y="1104.4" text-anchor="end" font-size="18.5" letter-spacing="0.4" font-weight="bold" font-family="Liberation Sans, sans-serif">0.1</text>
<text x="94.5" y="1173.5" text-anchor="end" font-size="18.5" letter-spacing="0.4" font-weight="bold" font-family="Liberation Sans, sans-serif">&lt;0.06</text>
<line x1="137.8" y1="1167" x2="137.8" y2="1174" stroke="#000" stroke-width="2.5"/>
<text transform="translate(141.3,1189.5) rotate(-45)" text-anchor="end" font-size="17.5" stroke="#000" stroke-width="0.35" font-family="Liberation Sans, sans-serif">CLL526 (1~69, U)</text>
<line x1="206.3" y1="1167" x2="206.3" y2="1174" stroke="#000" stroke-width="2.5"/>
<text transform="translate(209.8,1189.5) rotate(-45)" text-anchor="end" font-size="17.5" stroke="#000" stroke-width="0.35" font-family="Liberation Sans, sans-serif">CLL698 (1~69, U)</text>
<line x1="274.8" y1="1167" x2="274.8" y2="1174" stroke="#000" stroke-width="2.5"/>
<text transform="translate(278.3,1189.5) rotate(-45)" text-anchor="end" font-size="17.5" stroke="#000" stroke-width="0.35" font-family="Liberation Sans, sans-serif">CLL1073 (1~69, U)</text>
<line x1="343.3" y1="1167" x2="343.3" y2="1174" stroke="#000" stroke-width="2.5"/>
<text transform="translate(346.8,1189.5) rotate(-45)" text-anchor="end" font-size="17.5" stroke="#000" stroke-width="0.35" font-family="Liberation Sans, sans-serif">CLL1324 (1~69, U)</text>
<line x1="411.8" y1="1167" x2="411.8" y2="1174" stroke="#000" stroke-width="2.5"/>
<text transform="translate(415.3,1189.5) rotate(-45)" text-anchor="end" font-size="17.5" stroke="#000" stroke-width="0.35" font-family="Liberation Sans, sans-serif">CLL1080 (3~09, M)</text>
<line x1="480.3" y1="1167" x2="480.3" y2="1174" stroke="#000" stroke-width="2.5"/>
<text transform="translate(483.8,1189.5) rotate(-45)" text-anchor="end" font-size="17.5" stroke="#000" stroke-width="0.35" font-family="Liberation Sans, sans-serif">CLL1223 (2~05, M)</text>
<g fill="none" stroke="#000" stroke-width="1.75">
<ellipse cx="137.8" cy="973.1" rx="2.75" ry="2.35"/>
<ellipse cx="119.1" cy="997.7" rx="2.75" ry="2.35"/>
<ellipse cx="128.3" cy="999.8" rx="2.75" ry="2.35"/>
<ellipse cx="143.1" cy="996.8" rx="2.75" ry="2.35"/>
<ellipse cx="156.3" cy="998.6" rx="2.75" ry="2.35"/>
<ellipse cx="146.8" cy="1003.2" rx="2.75" ry="2.35"/>
<ellipse cx="137.8" cy="1006.3" rx="2.75" ry="2.35"/>
<ellipse cx="119.1" cy="1014.0" rx="2.75" ry="2.35"/>
<ellipse cx="124.6" cy="1012.2" rx="2.75" ry="2.35"/>
<ellipse cx="133.2" cy="1014.6" rx="2.75" ry="2.35"/>
<ellipse cx="143.1" cy="1013.7" rx="2.75" ry="2.35"/>
<ellipse cx="156.3" cy="1015.2" rx="2.75" ry="2.35"/>
<ellipse cx="119.1" cy="1018.3" rx="2.75" ry="2.35"/>
<ellipse cx="128.3" cy="1017.7" rx="2.75" ry="2.35"/>
<ellipse cx="137.8" cy="1017.7" rx="2.75" ry="2.35"/>
<ellipse cx="147.7" cy="1017.1" rx="2.75" ry="2.35"/>
<ellipse cx="128.3" cy="1022.9" rx="2.75" ry="2.35"/>
<ellipse cx="156.3" cy="1022.3" rx="2.75" ry="2.35"/>
<ellipse cx="147.7" cy="1024.8" rx="2.75" ry="2.35"/>
<ellipse cx="137.8" cy="1028.5" rx="2.75" ry="2.35"/>
<ellipse cx="197.5" cy="949.2" rx="2.75" ry="2.35"/>
<ellipse cx="206.8" cy="949.2" rx="2.75" ry="2.35"/>
<ellipse cx="188.3" cy="957.5" rx="2.75" ry="2.35"/>
<ellipse cx="225.2" cy="958.5" rx="2.75" ry="2.35"/>
<ellipse cx="197.5" cy="963.1" rx="2.75" ry="2.35"/>
<ellipse cx="206.8" cy="966.2" rx="2.75" ry="2.35"/>
<ellipse cx="216.0" cy="964.6" rx="2.75" ry="2.35"/>
<ellipse cx="207.1" cy="980.8" rx="2.75" ry="2.35"/>
<ellipse cx="188.6" cy="984.8" rx="2.75" ry="2.35"/>
<ellipse cx="197.8" cy="988.5" rx="2.75" ry="2.35"/>
<ellipse cx="207.1" cy="993.1" rx="2.75" ry="2.35"/>
<ellipse cx="216.3" cy="991.5" rx="2.75" ry="2.35"/>
<ellipse cx="225.5" cy="986.0" rx="2.75" ry="2.35"/>
<ellipse cx="216.3" cy="996.8" rx="2.75" ry="2.35"/>
<ellipse cx="197.8" cy="1003.2" rx="2.75" ry="2.35"/>
<ellipse cx="207.1" cy="1005.4" rx="2.75" ry="2.35"/>
<ellipse cx="216.3" cy="1018.3" rx="2.75" ry="2.35"/>
<ellipse cx="207.1" cy="1023.8" rx="2.75" ry="2.35"/>
<ellipse cx="207.1" cy="1045.4" rx="2.75" ry="2.35"/>
<ellipse cx="207.1" cy="1070.9" rx="2.75" ry="2.35"/>
<ellipse cx="274.5" cy="951.3" rx="2.75" ry="2.35"/>
<ellipse cx="274.5" cy="988.5" rx="2.75" ry="2.35"/>
<ellipse cx="256.7" cy="996.0" rx="2.75" ry="2.35"/>
<ellipse cx="265.6" cy="997.9" rx="2.75" ry="2.35"/>
<ellipse cx="274.5" cy="1002.5" rx="2.75" ry="2.35"/>
<ellipse cx="283.9" cy="997.9" rx="2.75" ry="2.35"/>
<ellipse cx="293.3" cy="993.8" rx="2.75" ry="2.35"/>
<ellipse cx="274.5" cy="1013.2" rx="2.75" ry="2.35"/>
<ellipse cx="265.6" cy="1022.7" rx="2.75" ry="2.35"/>
<ellipse cx="274.5" cy="1024.8" rx="2.75" ry="2.35"/>
<ellipse cx="265.6" cy="1032.9" rx="2.75" ry="2.35"/>
<ellipse cx="293.3" cy="1031.5" rx="2.75" ry="2.35"/>
<ellipse cx="274.5" cy="1040.4" rx="2.75" ry="2.35"/>
<ellipse cx="283.9" cy="1038.3" rx="2.75" ry="2.35"/>
<ellipse cx="274.5" cy="1082.2" rx="2.75" ry="2.35"/>
<ellipse cx="274.5" cy="1095.6" rx="2.75" ry="2.35"/>
<ellipse cx="274.5" cy="1112.9" rx="2.75" ry="2.35"/>
<ellipse cx="353.1" cy="969.6" rx="2.75" ry="2.35"/>
<ellipse cx="343.7" cy="977.7" rx="2.75" ry="2.35"/>
<ellipse cx="334.2" cy="990.6" rx="2.75" ry="2.35"/>
<ellipse cx="343.7" cy="992.5" rx="2.75" ry="2.35"/>
<ellipse cx="334.2" cy="997.1" rx="2.75" ry="2.35"/>
<ellipse cx="343.7" cy="1003.3" rx="2.75" ry="2.35"/>
<ellipse cx="353.1" cy="1003.3" rx="2.75" ry="2.35"/>
<ellipse cx="324.8" cy="1011.4" rx="2.75" ry="2.35"/>
<ellipse cx="334.2" cy="1010.5" rx="2.75" ry="2.35"/>
<ellipse cx="343.7" cy="1009.5" rx="2.75" ry="2.35"/>
<ellipse cx="353.1" cy="1009.5" rx="2.75" ry="2.35"/>
<ellipse cx="362.5" cy="1010.5" rx="2.75" ry="2.35"/>
<ellipse cx="357.9" cy="1006.8" rx="2.75" ry="2.35"/>
<ellipse cx="339.1" cy="1006.8" rx="2.75" ry="2.35"/>
<ellipse cx="347.7" cy="1006.8" rx="2.75" ry="2.35"/>
<ellipse cx="329.4" cy="1006.8" rx="2.75" ry="2.35"/>
<ellipse cx="334.2" cy="1015.9" rx="2.75" ry="2.35"/>
<ellipse cx="343.7" cy="1015.4" rx="2.75" ry="2.35"/>
<ellipse cx="353.1" cy="1014.9" rx="2.75" ry="2.35"/>
<ellipse cx="362.5" cy="1018.6" rx="2.75" ry="2.35"/>
<ellipse cx="334.2" cy="1021.3" rx="2.75" ry="2.35"/>
<ellipse cx="343.7" cy="1024.8" rx="2.75" ry="2.35"/>
<ellipse cx="353.1" cy="1024.0" rx="2.75" ry="2.35"/>
<ellipse cx="411.5" cy="974.2" rx="2.75" ry="2.35"/>
<ellipse cx="420.9" cy="973.1" rx="2.75" ry="2.35"/>
<ellipse cx="411.5" cy="996.0" rx="2.75" ry="2.35"/>
<ellipse cx="411.5" cy="1010.5" rx="2.75" ry="2.35"/>
<ellipse cx="411.5" cy="1033.7" rx="2.75" ry="2.35"/>
<ellipse cx="411.5" cy="1046.4" rx="2.75" ry="2.35"/>
<ellipse cx="402.1" cy="1069.8" rx="2.75" ry="2.35"/>
<ellipse cx="411.5" cy="1079.2" rx="2.75" ry="2.35"/>
<ellipse cx="411.5" cy="1101.5" rx="2.75" ry="2.35"/>
<ellipse cx="411.5" cy="1113.1" rx="2.75" ry="2.35"/>
<ellipse cx="480.4" cy="954.8" rx="2.75" ry="2.35"/>
<ellipse cx="480.4" cy="968.3" rx="2.75" ry="2.35"/>
<ellipse cx="489.9" cy="965.0" rx="2.75" ry="2.35"/>
<ellipse cx="480.4" cy="982.5" rx="2.75" ry="2.35"/>
<ellipse cx="489.9" cy="1009.2" rx="2.75" ry="2.35"/>
<ellipse cx="480.4" cy="1017.5" rx="2.75" ry="2.35"/>
<ellipse cx="471.0" cy="1045.0" rx="2.75" ry="2.35"/>
<ellipse cx="480.4" cy="1048.5" rx="2.75" ry="2.35"/>
<ellipse cx="480.4" cy="1059.8" rx="2.75" ry="2.35"/>
<ellipse cx="489.9" cy="1056.3" rx="2.75" ry="2.35"/>
<ellipse cx="471.0" cy="1074.6" rx="2.75" ry="2.35"/>
<ellipse cx="480.4" cy="1079.2" rx="2.75" ry="2.35"/>
<ellipse cx="480.4" cy="1095.6" rx="2.75" ry="2.35"/>
<ellipse cx="461.6" cy="1109.1" rx="2.75" ry="2.35"/>
<ellipse cx="471.0" cy="1113.1" rx="2.75" ry="2.35"/>
<ellipse cx="480.4" cy="1113.1" rx="2.75" ry="2.35"/>
<ellipse cx="489.9" cy="1109.1" rx="2.75" ry="2.35"/>
</g>
<ellipse cx="265.6" cy="1166.8" rx="3.6" ry="3.2"/>
<ellipse cx="274.5" cy="1166.8" rx="3.6" ry="3.2"/>
<ellipse cx="283.9" cy="1166.8" rx="3.6" ry="3.2"/>
<ellipse cx="471" cy="1166.8" rx="3.6" ry="3.2"/>
<ellipse cx="480.4" cy="1166.8" rx="3.6" ry="3.2"/>
<ellipse cx="489.9" cy="1166.8" rx="3.6" ry="3.2"/>
<rect x="389.4" y="1163.5" width="44" height="6.5" rx="3"/>
<line x1="115.4" y1="1006.9" x2="160.9" y2="1006.9" stroke="#000" stroke-width="1.8"/>
<line x1="183.7" y1="977.1" x2="229.8" y2="977.1" stroke="#000" stroke-width="1.8"/>
<line x1="252.1" y1="1007.3" x2="297.9" y2="1007.3" stroke="#000" stroke-width="1.8"/>
<line x1="320.2" y1="1001.4" x2="366.5" y2="1001.4" stroke="#000" stroke-width="1.8"/>
<line x1="389.4" y1="1028" x2="434.7" y2="1028" stroke="#000" stroke-width="1.8"/>
<line x1="457.3" y1="1008.7" x2="503.3" y2="1008.7" stroke="#000" stroke-width="1.8"/>
</svg>
</body></html>
